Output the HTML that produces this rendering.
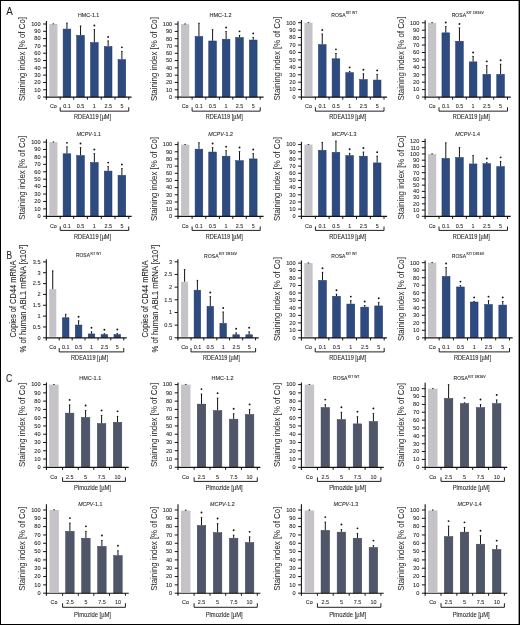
<!DOCTYPE html>
<html><head><meta charset="utf-8"><style>
html,body{margin:0;padding:0;background:#fff;}
svg{display:block;will-change:transform;}
text{font-family:"Liberation Sans", sans-serif;fill:#231f20;stroke:#231f20;stroke-width:0.08px;}
text.t{stroke-width:0.09px;}
text.y{stroke-width:0.02px;}
</style></head><body>
<svg width="520" height="625" viewBox="0 0 520 625">
<rect x="0" y="0" width="520" height="625" fill="#fff"/>
<rect x="49.25" y="24" width="8.2" height="72.05" fill="#c5c3c8"/>
<line x1="53.35" y1="24" x2="53.35" y2="23.56" stroke="#141414" stroke-width="1.0"/>
<line x1="52.55" y1="23.91" x2="54.15" y2="23.91" stroke="#141414" stroke-width="0.7"/>
<rect x="63.1" y="29.07" width="7.7" height="67.98" fill="#2e4b7f" stroke="#1d3670" stroke-width="0.5"/>
<line x1="66.95" y1="28.82" x2="66.95" y2="22.83" stroke="#141414" stroke-width="1.0"/>
<line x1="66.15" y1="23.18" x2="67.75" y2="23.18" stroke="#141414" stroke-width="0.7"/>
<rect x="76.7" y="35.35" width="7.7" height="61.7" fill="#2e4b7f" stroke="#1d3670" stroke-width="0.5"/>
<line x1="80.55" y1="35.1" x2="80.55" y2="25.68" stroke="#141414" stroke-width="1.0"/>
<line x1="79.75" y1="26.03" x2="81.35" y2="26.03" stroke="#141414" stroke-width="0.7"/>
<rect x="90.5" y="42.51" width="7.7" height="54.54" fill="#2e4b7f" stroke="#1d3670" stroke-width="0.5"/>
<line x1="94.35" y1="42.26" x2="94.35" y2="29.19" stroke="#141414" stroke-width="1.0"/>
<line x1="93.55" y1="29.54" x2="95.15" y2="29.54" stroke="#141414" stroke-width="0.7"/>
<circle cx="94.35" cy="25.49" r="0.95" fill="#141414"/>
<rect x="104.3" y="46.53" width="7.7" height="50.52" fill="#2e4b7f" stroke="#1d3670" stroke-width="0.5"/>
<line x1="108.15" y1="46.28" x2="108.15" y2="40.58" stroke="#141414" stroke-width="1.0"/>
<line x1="107.35" y1="40.93" x2="108.95" y2="40.93" stroke="#141414" stroke-width="0.7"/>
<circle cx="108.15" cy="36.88" r="0.95" fill="#141414"/>
<rect x="118.03" y="59.53" width="7.7" height="37.52" fill="#2e4b7f" stroke="#1d3670" stroke-width="0.5"/>
<line x1="121.88" y1="59.28" x2="121.88" y2="51.03" stroke="#141414" stroke-width="1.0"/>
<line x1="121.08" y1="51.38" x2="122.67" y2="51.38" stroke="#141414" stroke-width="0.7"/>
<circle cx="121.88" cy="47.33" r="0.95" fill="#141414"/>
<line x1="46.4" y1="21" x2="46.4" y2="99.65" stroke="#141414" stroke-width="1.1"/>
<line x1="45.85" y1="97.05" x2="131.6" y2="97.05" stroke="#141414" stroke-width="1.15"/>
<line x1="60.2" y1="97.05" x2="60.2" y2="99.65" stroke="#141414" stroke-width="1.0"/>
<line x1="73.7" y1="97.05" x2="73.7" y2="99.65" stroke="#141414" stroke-width="1.0"/>
<line x1="87.4" y1="97.05" x2="87.4" y2="99.65" stroke="#141414" stroke-width="1.0"/>
<line x1="101.3" y1="97.05" x2="101.3" y2="99.65" stroke="#141414" stroke-width="1.0"/>
<line x1="115" y1="97.05" x2="115" y2="99.65" stroke="#141414" stroke-width="1.0"/>
<line x1="128.75" y1="97.05" x2="128.75" y2="99.65" stroke="#141414" stroke-width="1.0"/>
<line x1="43.1" y1="97.05" x2="46.4" y2="97.05" stroke="#141414" stroke-width="1.0"/>
<text x="40.6" y="98.9" font-size="5.6" text-anchor="end">0</text>
<line x1="43.1" y1="89.75" x2="46.4" y2="89.75" stroke="#141414" stroke-width="1.0"/>
<text x="40.6" y="91.59" font-size="5.6" text-anchor="end">10</text>
<line x1="43.1" y1="82.44" x2="46.4" y2="82.44" stroke="#141414" stroke-width="1.0"/>
<text x="40.6" y="84.29" font-size="5.6" text-anchor="end">20</text>
<line x1="43.1" y1="75.13" x2="46.4" y2="75.13" stroke="#141414" stroke-width="1.0"/>
<text x="40.6" y="76.98" font-size="5.6" text-anchor="end">30</text>
<line x1="43.1" y1="67.83" x2="46.4" y2="67.83" stroke="#141414" stroke-width="1.0"/>
<text x="40.6" y="69.68" font-size="5.6" text-anchor="end">40</text>
<line x1="43.1" y1="60.52" x2="46.4" y2="60.52" stroke="#141414" stroke-width="1.0"/>
<text x="40.6" y="62.38" font-size="5.6" text-anchor="end">50</text>
<line x1="43.1" y1="53.22" x2="46.4" y2="53.22" stroke="#141414" stroke-width="1.0"/>
<text x="40.6" y="55.07" font-size="5.6" text-anchor="end">60</text>
<line x1="43.1" y1="45.91" x2="46.4" y2="45.91" stroke="#141414" stroke-width="1.0"/>
<text x="40.6" y="47.77" font-size="5.6" text-anchor="end">70</text>
<line x1="43.1" y1="38.61" x2="46.4" y2="38.61" stroke="#141414" stroke-width="1.0"/>
<text x="40.6" y="40.46" font-size="5.6" text-anchor="end">80</text>
<line x1="43.1" y1="31.31" x2="46.4" y2="31.31" stroke="#141414" stroke-width="1.0"/>
<text x="40.6" y="33.16" font-size="5.6" text-anchor="end">90</text>
<line x1="43.1" y1="24" x2="46.4" y2="24" stroke="#141414" stroke-width="1.0"/>
<text x="40.6" y="25.85" font-size="5.6" text-anchor="end">100</text>
<text x="53.35" y="108.4" font-size="6.2" text-anchor="middle" textLength="6.9" lengthAdjust="spacingAndGlyphs">Co</text>
<text x="66.95" y="108.4" font-size="6.2" text-anchor="middle" textLength="7.51" lengthAdjust="spacingAndGlyphs">0.1</text>
<text x="80.55" y="108.4" font-size="6.2" text-anchor="middle" textLength="7.51" lengthAdjust="spacingAndGlyphs">0.5</text>
<text x="94.35" y="108.4" font-size="6.2" text-anchor="middle" textLength="3" lengthAdjust="spacingAndGlyphs">1</text>
<text x="108.15" y="108.4" font-size="6.2" text-anchor="middle" textLength="7.51" lengthAdjust="spacingAndGlyphs">2.5</text>
<text x="121.88" y="108.4" font-size="6.2" text-anchor="middle" textLength="3" lengthAdjust="spacingAndGlyphs">5</text>
<path d="M60.2 107.25V111.15H128.75V107.25" fill="none" stroke="#141414" stroke-width="0.95"/>
<text x="92.57" y="119.35" font-size="6.3" text-anchor="middle" textLength="37" lengthAdjust="spacingAndGlyphs">RDEA119 [µM]</text>
<text class="t" x="78" y="16.6" font-size="6.1" textLength="21.3" lengthAdjust="spacingAndGlyphs">HMC-1.1</text>
<text class="y" transform="translate(24.9,59.02) rotate(-90)" font-size="8.8" text-anchor="middle" textLength="84" lengthAdjust="spacingAndGlyphs">Staining index [% of Co]</text>
<rect x="181.05" y="24.1" width="8.2" height="71.95" fill="#c5c3c8"/>
<line x1="185.15" y1="24.1" x2="185.15" y2="23.66" stroke="#141414" stroke-width="1.0"/>
<line x1="184.35" y1="24.01" x2="185.95" y2="24.01" stroke="#141414" stroke-width="0.7"/>
<rect x="195.1" y="36.46" width="7.7" height="60.59" fill="#2e4b7f" stroke="#1d3670" stroke-width="0.5"/>
<line x1="198.95" y1="36.21" x2="198.95" y2="22.93" stroke="#141414" stroke-width="1.0"/>
<line x1="198.15" y1="23.28" x2="199.75" y2="23.28" stroke="#141414" stroke-width="0.7"/>
<rect x="208.75" y="40.98" width="7.7" height="56.07" fill="#2e4b7f" stroke="#1d3670" stroke-width="0.5"/>
<line x1="212.6" y1="40.73" x2="212.6" y2="29.28" stroke="#141414" stroke-width="1.0"/>
<line x1="211.8" y1="29.63" x2="213.4" y2="29.63" stroke="#141414" stroke-width="0.7"/>
<rect x="222.25" y="39.23" width="7.7" height="57.82" fill="#2e4b7f" stroke="#1d3670" stroke-width="0.5"/>
<line x1="226.1" y1="38.98" x2="226.1" y2="31.18" stroke="#141414" stroke-width="1.0"/>
<line x1="225.3" y1="31.53" x2="226.9" y2="31.53" stroke="#141414" stroke-width="0.7"/>
<circle cx="226.1" cy="27.48" r="0.95" fill="#141414"/>
<rect x="235.68" y="37.55" width="7.7" height="59.5" fill="#2e4b7f" stroke="#1d3670" stroke-width="0.5"/>
<line x1="239.53" y1="37.3" x2="239.53" y2="35.04" stroke="#141414" stroke-width="1.0"/>
<line x1="238.72" y1="35.39" x2="240.33" y2="35.39" stroke="#141414" stroke-width="0.7"/>
<circle cx="239.53" cy="31.34" r="0.95" fill="#141414"/>
<rect x="249.38" y="40.03" width="7.7" height="57.02" fill="#2e4b7f" stroke="#1d3670" stroke-width="0.5"/>
<line x1="253.22" y1="39.78" x2="253.22" y2="37.09" stroke="#141414" stroke-width="1.0"/>
<line x1="252.42" y1="37.44" x2="254.03" y2="37.44" stroke="#141414" stroke-width="0.7"/>
<circle cx="253.22" cy="33.39" r="0.95" fill="#141414"/>
<line x1="178" y1="21.2" x2="178" y2="99.65" stroke="#141414" stroke-width="1.1"/>
<line x1="177.45" y1="97.05" x2="263.6" y2="97.05" stroke="#141414" stroke-width="1.15"/>
<line x1="192.1" y1="97.05" x2="192.1" y2="99.65" stroke="#141414" stroke-width="1.0"/>
<line x1="205.8" y1="97.05" x2="205.8" y2="99.65" stroke="#141414" stroke-width="1.0"/>
<line x1="219.4" y1="97.05" x2="219.4" y2="99.65" stroke="#141414" stroke-width="1.0"/>
<line x1="232.8" y1="97.05" x2="232.8" y2="99.65" stroke="#141414" stroke-width="1.0"/>
<line x1="246.25" y1="97.05" x2="246.25" y2="99.65" stroke="#141414" stroke-width="1.0"/>
<line x1="260.2" y1="97.05" x2="260.2" y2="99.65" stroke="#141414" stroke-width="1.0"/>
<line x1="174.7" y1="97.05" x2="178" y2="97.05" stroke="#141414" stroke-width="1.0"/>
<text x="172.2" y="98.9" font-size="5.6" text-anchor="end">0</text>
<line x1="174.7" y1="89.75" x2="178" y2="89.75" stroke="#141414" stroke-width="1.0"/>
<text x="172.2" y="91.6" font-size="5.6" text-anchor="end">10</text>
<line x1="174.7" y1="82.46" x2="178" y2="82.46" stroke="#141414" stroke-width="1.0"/>
<text x="172.2" y="84.31" font-size="5.6" text-anchor="end">20</text>
<line x1="174.7" y1="75.16" x2="178" y2="75.16" stroke="#141414" stroke-width="1.0"/>
<text x="172.2" y="77.01" font-size="5.6" text-anchor="end">30</text>
<line x1="174.7" y1="67.87" x2="178" y2="67.87" stroke="#141414" stroke-width="1.0"/>
<text x="172.2" y="69.72" font-size="5.6" text-anchor="end">40</text>
<line x1="174.7" y1="60.58" x2="178" y2="60.58" stroke="#141414" stroke-width="1.0"/>
<text x="172.2" y="62.43" font-size="5.6" text-anchor="end">50</text>
<line x1="174.7" y1="53.28" x2="178" y2="53.28" stroke="#141414" stroke-width="1.0"/>
<text x="172.2" y="55.13" font-size="5.6" text-anchor="end">60</text>
<line x1="174.7" y1="45.98" x2="178" y2="45.98" stroke="#141414" stroke-width="1.0"/>
<text x="172.2" y="47.84" font-size="5.6" text-anchor="end">70</text>
<line x1="174.7" y1="38.69" x2="178" y2="38.69" stroke="#141414" stroke-width="1.0"/>
<text x="172.2" y="40.54" font-size="5.6" text-anchor="end">80</text>
<line x1="174.7" y1="31.4" x2="178" y2="31.4" stroke="#141414" stroke-width="1.0"/>
<text x="172.2" y="33.25" font-size="5.6" text-anchor="end">90</text>
<line x1="174.7" y1="24.1" x2="178" y2="24.1" stroke="#141414" stroke-width="1.0"/>
<text x="172.2" y="25.95" font-size="5.6" text-anchor="end">100</text>
<text x="185.15" y="108.4" font-size="6.2" text-anchor="middle" textLength="6.9" lengthAdjust="spacingAndGlyphs">Co</text>
<text x="198.95" y="108.4" font-size="6.2" text-anchor="middle" textLength="7.51" lengthAdjust="spacingAndGlyphs">0.1</text>
<text x="212.6" y="108.4" font-size="6.2" text-anchor="middle" textLength="7.51" lengthAdjust="spacingAndGlyphs">0.5</text>
<text x="226.1" y="108.4" font-size="6.2" text-anchor="middle" textLength="3" lengthAdjust="spacingAndGlyphs">1</text>
<text x="239.53" y="108.4" font-size="6.2" text-anchor="middle" textLength="7.51" lengthAdjust="spacingAndGlyphs">2.5</text>
<text x="253.22" y="108.4" font-size="6.2" text-anchor="middle" textLength="3" lengthAdjust="spacingAndGlyphs">5</text>
<path d="M192.1 107.25V111.15H260.2V107.25" fill="none" stroke="#141414" stroke-width="0.95"/>
<text x="224.25" y="119.35" font-size="6.3" text-anchor="middle" textLength="37" lengthAdjust="spacingAndGlyphs">RDEA119 [µM]</text>
<text class="t" x="209.5" y="16.6" font-size="6.1" textLength="22.1" lengthAdjust="spacingAndGlyphs">HMC-1.2</text>
<text class="y" transform="translate(156.5,59.12) rotate(-90)" font-size="8.8" text-anchor="middle" textLength="84" lengthAdjust="spacingAndGlyphs">Staining index [% of Co]</text>
<rect x="304.35" y="22.7" width="8.2" height="73.35" fill="#c5c3c8"/>
<line x1="308.45" y1="22.7" x2="308.45" y2="22.25" stroke="#141414" stroke-width="1.0"/>
<line x1="307.65" y1="22.6" x2="309.25" y2="22.6" stroke="#141414" stroke-width="0.7"/>
<rect x="318.4" y="44.59" width="7.7" height="52.46" fill="#2e4b7f" stroke="#1d3670" stroke-width="0.5"/>
<line x1="322.25" y1="44.34" x2="322.25" y2="33.7" stroke="#141414" stroke-width="1.0"/>
<line x1="321.45" y1="34.05" x2="323.05" y2="34.05" stroke="#141414" stroke-width="0.7"/>
<circle cx="322.25" cy="30" r="0.95" fill="#141414"/>
<rect x="332.1" y="58.79" width="7.7" height="38.26" fill="#2e4b7f" stroke="#1d3670" stroke-width="0.5"/>
<line x1="335.95" y1="58.54" x2="335.95" y2="53.03" stroke="#141414" stroke-width="1.0"/>
<line x1="335.15" y1="53.38" x2="336.75" y2="53.38" stroke="#141414" stroke-width="0.7"/>
<circle cx="335.95" cy="49.33" r="0.95" fill="#141414"/>
<rect x="345.8" y="72.62" width="7.7" height="24.43" fill="#2e4b7f" stroke="#1d3670" stroke-width="0.5"/>
<line x1="349.65" y1="72.37" x2="349.65" y2="71.1" stroke="#141414" stroke-width="1.0"/>
<line x1="348.85" y1="71.45" x2="350.45" y2="71.45" stroke="#141414" stroke-width="0.7"/>
<circle cx="349.65" cy="67.4" r="0.95" fill="#141414"/>
<rect x="359.55" y="79.53" width="7.7" height="17.52" fill="#2e4b7f" stroke="#1d3670" stroke-width="0.5"/>
<line x1="363.4" y1="79.28" x2="363.4" y2="73.41" stroke="#141414" stroke-width="1.0"/>
<line x1="362.6" y1="73.76" x2="364.2" y2="73.76" stroke="#141414" stroke-width="0.7"/>
<circle cx="363.4" cy="69.71" r="0.95" fill="#141414"/>
<rect x="373.3" y="80.05" width="7.7" height="17" fill="#2e4b7f" stroke="#1d3670" stroke-width="0.5"/>
<line x1="377.15" y1="79.8" x2="377.15" y2="74.08" stroke="#141414" stroke-width="1.0"/>
<line x1="376.35" y1="74.43" x2="377.95" y2="74.43" stroke="#141414" stroke-width="0.7"/>
<circle cx="377.15" cy="70.38" r="0.95" fill="#141414"/>
<line x1="301.4" y1="20" x2="301.4" y2="99.65" stroke="#141414" stroke-width="1.1"/>
<line x1="300.85" y1="97.05" x2="387.1" y2="97.05" stroke="#141414" stroke-width="1.15"/>
<line x1="315.4" y1="97.05" x2="315.4" y2="99.65" stroke="#141414" stroke-width="1.0"/>
<line x1="329.1" y1="97.05" x2="329.1" y2="99.65" stroke="#141414" stroke-width="1.0"/>
<line x1="342.8" y1="97.05" x2="342.8" y2="99.65" stroke="#141414" stroke-width="1.0"/>
<line x1="356.5" y1="97.05" x2="356.5" y2="99.65" stroke="#141414" stroke-width="1.0"/>
<line x1="370.3" y1="97.05" x2="370.3" y2="99.65" stroke="#141414" stroke-width="1.0"/>
<line x1="384" y1="97.05" x2="384" y2="99.65" stroke="#141414" stroke-width="1.0"/>
<line x1="298.1" y1="97.05" x2="301.4" y2="97.05" stroke="#141414" stroke-width="1.0"/>
<text x="295.6" y="98.9" font-size="5.6" text-anchor="end">0</text>
<line x1="298.1" y1="89.61" x2="301.4" y2="89.61" stroke="#141414" stroke-width="1.0"/>
<text x="295.6" y="91.46" font-size="5.6" text-anchor="end">10</text>
<line x1="298.1" y1="82.18" x2="301.4" y2="82.18" stroke="#141414" stroke-width="1.0"/>
<text x="295.6" y="84.03" font-size="5.6" text-anchor="end">20</text>
<line x1="298.1" y1="74.75" x2="301.4" y2="74.75" stroke="#141414" stroke-width="1.0"/>
<text x="295.6" y="76.59" font-size="5.6" text-anchor="end">30</text>
<line x1="298.1" y1="67.31" x2="301.4" y2="67.31" stroke="#141414" stroke-width="1.0"/>
<text x="295.6" y="69.16" font-size="5.6" text-anchor="end">40</text>
<line x1="298.1" y1="59.88" x2="301.4" y2="59.88" stroke="#141414" stroke-width="1.0"/>
<text x="295.6" y="61.73" font-size="5.6" text-anchor="end">50</text>
<line x1="298.1" y1="52.44" x2="301.4" y2="52.44" stroke="#141414" stroke-width="1.0"/>
<text x="295.6" y="54.29" font-size="5.6" text-anchor="end">60</text>
<line x1="298.1" y1="45.01" x2="301.4" y2="45.01" stroke="#141414" stroke-width="1.0"/>
<text x="295.6" y="46.86" font-size="5.6" text-anchor="end">70</text>
<line x1="298.1" y1="37.57" x2="301.4" y2="37.57" stroke="#141414" stroke-width="1.0"/>
<text x="295.6" y="39.42" font-size="5.6" text-anchor="end">80</text>
<line x1="298.1" y1="30.14" x2="301.4" y2="30.14" stroke="#141414" stroke-width="1.0"/>
<text x="295.6" y="31.99" font-size="5.6" text-anchor="end">90</text>
<line x1="298.1" y1="22.7" x2="301.4" y2="22.7" stroke="#141414" stroke-width="1.0"/>
<text x="295.6" y="24.55" font-size="5.6" text-anchor="end">100</text>
<text x="308.45" y="108.4" font-size="6.2" text-anchor="middle" textLength="6.9" lengthAdjust="spacingAndGlyphs">Co</text>
<text x="322.25" y="108.4" font-size="6.2" text-anchor="middle" textLength="7.51" lengthAdjust="spacingAndGlyphs">0.1</text>
<text x="335.95" y="108.4" font-size="6.2" text-anchor="middle" textLength="7.51" lengthAdjust="spacingAndGlyphs">0.5</text>
<text x="349.65" y="108.4" font-size="6.2" text-anchor="middle" textLength="3" lengthAdjust="spacingAndGlyphs">1</text>
<text x="363.4" y="108.4" font-size="6.2" text-anchor="middle" textLength="7.51" lengthAdjust="spacingAndGlyphs">2.5</text>
<text x="377.15" y="108.4" font-size="6.2" text-anchor="middle" textLength="3" lengthAdjust="spacingAndGlyphs">5</text>
<path d="M315.4 107.25V111.15H384V107.25" fill="none" stroke="#141414" stroke-width="0.95"/>
<text x="347.8" y="119.35" font-size="6.3" text-anchor="middle" textLength="37" lengthAdjust="spacingAndGlyphs">RDEA119 [µM]</text>
<text class="t" x="331.3" y="16.7" font-size="6.1" textLength="14.2" lengthAdjust="spacingAndGlyphs">ROSA</text>
<text class="t" x="345.9" y="14.2" font-size="3.3" textLength="11.5" lengthAdjust="spacingAndGlyphs">KIT WT</text>
<text class="y" transform="translate(279.9,58.52) rotate(-90)" font-size="8.8" text-anchor="middle" textLength="84" lengthAdjust="spacingAndGlyphs">Staining index [% of Co]</text>
<rect x="428" y="22.8" width="8.2" height="73.25" fill="#c5c3c8"/>
<line x1="432.1" y1="22.8" x2="432.1" y2="22.35" stroke="#141414" stroke-width="1.0"/>
<line x1="431.3" y1="22.7" x2="432.9" y2="22.7" stroke="#141414" stroke-width="0.7"/>
<rect x="441.95" y="32.85" width="7.7" height="64.2" fill="#2e4b7f" stroke="#1d3670" stroke-width="0.5"/>
<line x1="445.8" y1="32.6" x2="445.8" y2="26.22" stroke="#141414" stroke-width="1.0"/>
<line x1="445" y1="26.57" x2="446.6" y2="26.57" stroke="#141414" stroke-width="0.7"/>
<circle cx="445.8" cy="22.52" r="0.95" fill="#141414"/>
<rect x="455.6" y="41.24" width="7.7" height="55.81" fill="#2e4b7f" stroke="#1d3670" stroke-width="0.5"/>
<line x1="459.45" y1="40.99" x2="459.45" y2="27.63" stroke="#141414" stroke-width="1.0"/>
<line x1="458.65" y1="27.98" x2="460.25" y2="27.98" stroke="#141414" stroke-width="0.7"/>
<circle cx="459.45" cy="23.93" r="0.95" fill="#141414"/>
<rect x="469.25" y="61.88" width="7.7" height="35.17" fill="#2e4b7f" stroke="#1d3670" stroke-width="0.5"/>
<line x1="473.1" y1="61.63" x2="473.1" y2="56.14" stroke="#141414" stroke-width="1.0"/>
<line x1="472.3" y1="56.49" x2="473.9" y2="56.49" stroke="#141414" stroke-width="0.7"/>
<circle cx="473.1" cy="52.44" r="0.95" fill="#141414"/>
<rect x="482.95" y="74.36" width="7.7" height="22.69" fill="#2e4b7f" stroke="#1d3670" stroke-width="0.5"/>
<line x1="486.8" y1="74.11" x2="486.8" y2="65.12" stroke="#141414" stroke-width="1.0"/>
<line x1="486" y1="65.47" x2="487.6" y2="65.47" stroke="#141414" stroke-width="0.7"/>
<circle cx="486.8" cy="61.42" r="0.95" fill="#141414"/>
<rect x="496.75" y="74.36" width="7.7" height="22.69" fill="#2e4b7f" stroke="#1d3670" stroke-width="0.5"/>
<line x1="500.6" y1="74.11" x2="500.6" y2="63.93" stroke="#141414" stroke-width="1.0"/>
<line x1="499.8" y1="64.28" x2="501.4" y2="64.28" stroke="#141414" stroke-width="0.7"/>
<circle cx="500.6" cy="60.23" r="0.95" fill="#141414"/>
<line x1="425.15" y1="20.2" x2="425.15" y2="99.65" stroke="#141414" stroke-width="1.1"/>
<line x1="424.6" y1="97.05" x2="510.7" y2="97.05" stroke="#141414" stroke-width="1.15"/>
<line x1="439" y1="97.05" x2="439" y2="99.65" stroke="#141414" stroke-width="1.0"/>
<line x1="452.6" y1="97.05" x2="452.6" y2="99.65" stroke="#141414" stroke-width="1.0"/>
<line x1="466.3" y1="97.05" x2="466.3" y2="99.65" stroke="#141414" stroke-width="1.0"/>
<line x1="479.9" y1="97.05" x2="479.9" y2="99.65" stroke="#141414" stroke-width="1.0"/>
<line x1="493.7" y1="97.05" x2="493.7" y2="99.65" stroke="#141414" stroke-width="1.0"/>
<line x1="507.5" y1="97.05" x2="507.5" y2="99.65" stroke="#141414" stroke-width="1.0"/>
<line x1="421.85" y1="97.05" x2="425.15" y2="97.05" stroke="#141414" stroke-width="1.0"/>
<text x="419.35" y="98.9" font-size="5.6" text-anchor="end">0</text>
<line x1="421.85" y1="89.62" x2="425.15" y2="89.62" stroke="#141414" stroke-width="1.0"/>
<text x="419.35" y="91.47" font-size="5.6" text-anchor="end">10</text>
<line x1="421.85" y1="82.2" x2="425.15" y2="82.2" stroke="#141414" stroke-width="1.0"/>
<text x="419.35" y="84.05" font-size="5.6" text-anchor="end">20</text>
<line x1="421.85" y1="74.77" x2="425.15" y2="74.77" stroke="#141414" stroke-width="1.0"/>
<text x="419.35" y="76.62" font-size="5.6" text-anchor="end">30</text>
<line x1="421.85" y1="67.35" x2="425.15" y2="67.35" stroke="#141414" stroke-width="1.0"/>
<text x="419.35" y="69.2" font-size="5.6" text-anchor="end">40</text>
<line x1="421.85" y1="59.92" x2="425.15" y2="59.92" stroke="#141414" stroke-width="1.0"/>
<text x="419.35" y="61.77" font-size="5.6" text-anchor="end">50</text>
<line x1="421.85" y1="52.5" x2="425.15" y2="52.5" stroke="#141414" stroke-width="1.0"/>
<text x="419.35" y="54.35" font-size="5.6" text-anchor="end">60</text>
<line x1="421.85" y1="45.07" x2="425.15" y2="45.07" stroke="#141414" stroke-width="1.0"/>
<text x="419.35" y="46.92" font-size="5.6" text-anchor="end">70</text>
<line x1="421.85" y1="37.65" x2="425.15" y2="37.65" stroke="#141414" stroke-width="1.0"/>
<text x="419.35" y="39.5" font-size="5.6" text-anchor="end">80</text>
<line x1="421.85" y1="30.22" x2="425.15" y2="30.22" stroke="#141414" stroke-width="1.0"/>
<text x="419.35" y="32.07" font-size="5.6" text-anchor="end">90</text>
<line x1="421.85" y1="22.8" x2="425.15" y2="22.8" stroke="#141414" stroke-width="1.0"/>
<text x="419.35" y="24.65" font-size="5.6" text-anchor="end">100</text>
<text x="432.1" y="108.4" font-size="6.2" text-anchor="middle" textLength="6.9" lengthAdjust="spacingAndGlyphs">Co</text>
<text x="445.8" y="108.4" font-size="6.2" text-anchor="middle" textLength="7.51" lengthAdjust="spacingAndGlyphs">0.1</text>
<text x="459.45" y="108.4" font-size="6.2" text-anchor="middle" textLength="7.51" lengthAdjust="spacingAndGlyphs">0.5</text>
<text x="473.1" y="108.4" font-size="6.2" text-anchor="middle" textLength="3" lengthAdjust="spacingAndGlyphs">1</text>
<text x="486.8" y="108.4" font-size="6.2" text-anchor="middle" textLength="7.51" lengthAdjust="spacingAndGlyphs">2.5</text>
<text x="500.6" y="108.4" font-size="6.2" text-anchor="middle" textLength="3" lengthAdjust="spacingAndGlyphs">5</text>
<path d="M439 107.25V111.15H507.5V107.25" fill="none" stroke="#141414" stroke-width="0.95"/>
<text x="471.35" y="119.35" font-size="6.3" text-anchor="middle" textLength="37" lengthAdjust="spacingAndGlyphs">RDEA119 [µM]</text>
<text class="t" x="451.7" y="16.7" font-size="6.1" textLength="14.4" lengthAdjust="spacingAndGlyphs">ROSA</text>
<text class="t" x="466.5" y="14.2" font-size="3.3" textLength="17.3" lengthAdjust="spacingAndGlyphs">KIT D816V</text>
<text class="y" transform="translate(403.65,58.62) rotate(-90)" font-size="8.8" text-anchor="middle" textLength="84" lengthAdjust="spacingAndGlyphs">Staining index [% of Co]</text>
<rect x="49.25" y="142.1" width="8.2" height="73.2" fill="#c5c3c8"/>
<line x1="53.35" y1="142.1" x2="53.35" y2="141.65" stroke="#141414" stroke-width="1.0"/>
<line x1="52.55" y1="142" x2="54.15" y2="142" stroke="#141414" stroke-width="0.7"/>
<rect x="63.1" y="153.78" width="7.7" height="62.52" fill="#2e4b7f" stroke="#1d3670" stroke-width="0.5"/>
<line x1="66.95" y1="153.53" x2="66.95" y2="146.55" stroke="#141414" stroke-width="1.0"/>
<line x1="66.15" y1="146.9" x2="67.75" y2="146.9" stroke="#141414" stroke-width="0.7"/>
<circle cx="66.95" cy="142.85" r="0.95" fill="#141414"/>
<rect x="76.7" y="155.56" width="7.7" height="60.74" fill="#2e4b7f" stroke="#1d3670" stroke-width="0.5"/>
<line x1="80.55" y1="155.31" x2="80.55" y2="147.22" stroke="#141414" stroke-width="1.0"/>
<line x1="79.75" y1="147.57" x2="81.35" y2="147.57" stroke="#141414" stroke-width="0.7"/>
<circle cx="80.55" cy="143.52" r="0.95" fill="#141414"/>
<rect x="90.5" y="162.46" width="7.7" height="53.84" fill="#2e4b7f" stroke="#1d3670" stroke-width="0.5"/>
<line x1="94.35" y1="162.21" x2="94.35" y2="153.23" stroke="#141414" stroke-width="1.0"/>
<line x1="93.55" y1="153.58" x2="95.15" y2="153.58" stroke="#141414" stroke-width="0.7"/>
<circle cx="94.35" cy="149.53" r="0.95" fill="#141414"/>
<rect x="104.3" y="171.07" width="7.7" height="45.23" fill="#2e4b7f" stroke="#1d3670" stroke-width="0.5"/>
<line x1="108.15" y1="170.82" x2="108.15" y2="166.29" stroke="#141414" stroke-width="1.0"/>
<line x1="107.35" y1="166.64" x2="108.95" y2="166.64" stroke="#141414" stroke-width="0.7"/>
<circle cx="108.15" cy="162.59" r="0.95" fill="#141414"/>
<rect x="118.03" y="175.29" width="7.7" height="41.01" fill="#2e4b7f" stroke="#1d3670" stroke-width="0.5"/>
<line x1="121.88" y1="175.04" x2="121.88" y2="168.22" stroke="#141414" stroke-width="1.0"/>
<line x1="121.08" y1="168.57" x2="122.67" y2="168.57" stroke="#141414" stroke-width="0.7"/>
<circle cx="121.88" cy="164.52" r="0.95" fill="#141414"/>
<line x1="46.4" y1="139.2" x2="46.4" y2="218.9" stroke="#141414" stroke-width="1.1"/>
<line x1="45.85" y1="216.3" x2="131.7" y2="216.3" stroke="#141414" stroke-width="1.15"/>
<line x1="60.2" y1="216.3" x2="60.2" y2="218.9" stroke="#141414" stroke-width="1.0"/>
<line x1="73.7" y1="216.3" x2="73.7" y2="218.9" stroke="#141414" stroke-width="1.0"/>
<line x1="87.4" y1="216.3" x2="87.4" y2="218.9" stroke="#141414" stroke-width="1.0"/>
<line x1="101.3" y1="216.3" x2="101.3" y2="218.9" stroke="#141414" stroke-width="1.0"/>
<line x1="115" y1="216.3" x2="115" y2="218.9" stroke="#141414" stroke-width="1.0"/>
<line x1="128.75" y1="216.3" x2="128.75" y2="218.9" stroke="#141414" stroke-width="1.0"/>
<line x1="43.1" y1="216.3" x2="46.4" y2="216.3" stroke="#141414" stroke-width="1.0"/>
<text x="40.6" y="218.15" font-size="5.6" text-anchor="end">0</text>
<line x1="43.1" y1="208.88" x2="46.4" y2="208.88" stroke="#141414" stroke-width="1.0"/>
<text x="40.6" y="210.73" font-size="5.6" text-anchor="end">10</text>
<line x1="43.1" y1="201.46" x2="46.4" y2="201.46" stroke="#141414" stroke-width="1.0"/>
<text x="40.6" y="203.31" font-size="5.6" text-anchor="end">20</text>
<line x1="43.1" y1="194.04" x2="46.4" y2="194.04" stroke="#141414" stroke-width="1.0"/>
<text x="40.6" y="195.89" font-size="5.6" text-anchor="end">30</text>
<line x1="43.1" y1="186.62" x2="46.4" y2="186.62" stroke="#141414" stroke-width="1.0"/>
<text x="40.6" y="188.47" font-size="5.6" text-anchor="end">40</text>
<line x1="43.1" y1="179.2" x2="46.4" y2="179.2" stroke="#141414" stroke-width="1.0"/>
<text x="40.6" y="181.05" font-size="5.6" text-anchor="end">50</text>
<line x1="43.1" y1="171.78" x2="46.4" y2="171.78" stroke="#141414" stroke-width="1.0"/>
<text x="40.6" y="173.63" font-size="5.6" text-anchor="end">60</text>
<line x1="43.1" y1="164.36" x2="46.4" y2="164.36" stroke="#141414" stroke-width="1.0"/>
<text x="40.6" y="166.21" font-size="5.6" text-anchor="end">70</text>
<line x1="43.1" y1="156.94" x2="46.4" y2="156.94" stroke="#141414" stroke-width="1.0"/>
<text x="40.6" y="158.79" font-size="5.6" text-anchor="end">80</text>
<line x1="43.1" y1="149.52" x2="46.4" y2="149.52" stroke="#141414" stroke-width="1.0"/>
<text x="40.6" y="151.37" font-size="5.6" text-anchor="end">90</text>
<line x1="43.1" y1="142.1" x2="46.4" y2="142.1" stroke="#141414" stroke-width="1.0"/>
<text x="40.6" y="143.95" font-size="5.6" text-anchor="end">100</text>
<text x="53.35" y="227.65" font-size="6.2" text-anchor="middle" textLength="6.9" lengthAdjust="spacingAndGlyphs">Co</text>
<text x="66.95" y="227.65" font-size="6.2" text-anchor="middle" textLength="7.51" lengthAdjust="spacingAndGlyphs">0.1</text>
<text x="80.55" y="227.65" font-size="6.2" text-anchor="middle" textLength="7.51" lengthAdjust="spacingAndGlyphs">0.5</text>
<text x="94.35" y="227.65" font-size="6.2" text-anchor="middle" textLength="3" lengthAdjust="spacingAndGlyphs">1</text>
<text x="108.15" y="227.65" font-size="6.2" text-anchor="middle" textLength="7.51" lengthAdjust="spacingAndGlyphs">2.5</text>
<text x="121.88" y="227.65" font-size="6.2" text-anchor="middle" textLength="3" lengthAdjust="spacingAndGlyphs">5</text>
<path d="M60.2 226.5V230.4H128.75V226.5" fill="none" stroke="#141414" stroke-width="0.95"/>
<text x="92.57" y="238.9" font-size="6.3" text-anchor="middle" textLength="37" lengthAdjust="spacingAndGlyphs">RDEA119 [µM]</text>
<text class="t" x="76.4" y="135.7" font-size="6.1" textLength="24.6" lengthAdjust="spacingAndGlyphs"><tspan font-style="italic">MCPV</tspan>-1.1</text>
<text class="y" transform="translate(24.9,177.75) rotate(-90)" font-size="8.8" text-anchor="middle" textLength="84" lengthAdjust="spacingAndGlyphs">Staining index [% of Co]</text>
<rect x="181.05" y="144.6" width="8.2" height="70.7" fill="#c5c3c8"/>
<line x1="185.15" y1="144.6" x2="185.15" y2="144.17" stroke="#141414" stroke-width="1.0"/>
<line x1="184.35" y1="144.52" x2="185.95" y2="144.52" stroke="#141414" stroke-width="0.7"/>
<rect x="195.1" y="149.15" width="7.7" height="67.15" fill="#2e4b7f" stroke="#1d3670" stroke-width="0.5"/>
<line x1="198.95" y1="148.9" x2="198.95" y2="142.45" stroke="#141414" stroke-width="1.0"/>
<line x1="198.15" y1="142.8" x2="199.75" y2="142.8" stroke="#141414" stroke-width="0.7"/>
<rect x="208.75" y="152.02" width="7.7" height="64.28" fill="#2e4b7f" stroke="#1d3670" stroke-width="0.5"/>
<line x1="212.6" y1="151.77" x2="212.6" y2="147.18" stroke="#141414" stroke-width="1.0"/>
<line x1="211.8" y1="147.53" x2="213.4" y2="147.53" stroke="#141414" stroke-width="0.7"/>
<circle cx="212.6" cy="143.48" r="0.95" fill="#141414"/>
<rect x="222.25" y="156.18" width="7.7" height="60.12" fill="#2e4b7f" stroke="#1d3670" stroke-width="0.5"/>
<line x1="226.1" y1="155.93" x2="226.1" y2="150.34" stroke="#141414" stroke-width="1.0"/>
<line x1="225.3" y1="150.69" x2="226.9" y2="150.69" stroke="#141414" stroke-width="0.7"/>
<circle cx="226.1" cy="146.64" r="0.95" fill="#141414"/>
<rect x="235.68" y="160.7" width="7.7" height="55.6" fill="#2e4b7f" stroke="#1d3670" stroke-width="0.5"/>
<line x1="239.53" y1="160.45" x2="239.53" y2="151.27" stroke="#141414" stroke-width="1.0"/>
<line x1="238.72" y1="151.62" x2="240.33" y2="151.62" stroke="#141414" stroke-width="0.7"/>
<circle cx="239.53" cy="147.57" r="0.95" fill="#141414"/>
<rect x="249.38" y="158.9" width="7.7" height="57.4" fill="#2e4b7f" stroke="#1d3670" stroke-width="0.5"/>
<line x1="253.22" y1="158.65" x2="253.22" y2="153.2" stroke="#141414" stroke-width="1.0"/>
<line x1="252.42" y1="153.55" x2="254.03" y2="153.55" stroke="#141414" stroke-width="0.7"/>
<circle cx="253.22" cy="149.5" r="0.95" fill="#141414"/>
<line x1="178" y1="141.8" x2="178" y2="218.9" stroke="#141414" stroke-width="1.1"/>
<line x1="177.45" y1="216.3" x2="263.6" y2="216.3" stroke="#141414" stroke-width="1.15"/>
<line x1="192.1" y1="216.3" x2="192.1" y2="218.9" stroke="#141414" stroke-width="1.0"/>
<line x1="205.8" y1="216.3" x2="205.8" y2="218.9" stroke="#141414" stroke-width="1.0"/>
<line x1="219.4" y1="216.3" x2="219.4" y2="218.9" stroke="#141414" stroke-width="1.0"/>
<line x1="232.8" y1="216.3" x2="232.8" y2="218.9" stroke="#141414" stroke-width="1.0"/>
<line x1="246.25" y1="216.3" x2="246.25" y2="218.9" stroke="#141414" stroke-width="1.0"/>
<line x1="260.2" y1="216.3" x2="260.2" y2="218.9" stroke="#141414" stroke-width="1.0"/>
<line x1="174.7" y1="216.3" x2="178" y2="216.3" stroke="#141414" stroke-width="1.0"/>
<text x="172.2" y="218.15" font-size="5.6" text-anchor="end">0</text>
<line x1="174.7" y1="209.13" x2="178" y2="209.13" stroke="#141414" stroke-width="1.0"/>
<text x="172.2" y="210.98" font-size="5.6" text-anchor="end">10</text>
<line x1="174.7" y1="201.96" x2="178" y2="201.96" stroke="#141414" stroke-width="1.0"/>
<text x="172.2" y="203.81" font-size="5.6" text-anchor="end">20</text>
<line x1="174.7" y1="194.79" x2="178" y2="194.79" stroke="#141414" stroke-width="1.0"/>
<text x="172.2" y="196.64" font-size="5.6" text-anchor="end">30</text>
<line x1="174.7" y1="187.62" x2="178" y2="187.62" stroke="#141414" stroke-width="1.0"/>
<text x="172.2" y="189.47" font-size="5.6" text-anchor="end">40</text>
<line x1="174.7" y1="180.45" x2="178" y2="180.45" stroke="#141414" stroke-width="1.0"/>
<text x="172.2" y="182.3" font-size="5.6" text-anchor="end">50</text>
<line x1="174.7" y1="173.28" x2="178" y2="173.28" stroke="#141414" stroke-width="1.0"/>
<text x="172.2" y="175.13" font-size="5.6" text-anchor="end">60</text>
<line x1="174.7" y1="166.11" x2="178" y2="166.11" stroke="#141414" stroke-width="1.0"/>
<text x="172.2" y="167.96" font-size="5.6" text-anchor="end">70</text>
<line x1="174.7" y1="158.94" x2="178" y2="158.94" stroke="#141414" stroke-width="1.0"/>
<text x="172.2" y="160.79" font-size="5.6" text-anchor="end">80</text>
<line x1="174.7" y1="151.77" x2="178" y2="151.77" stroke="#141414" stroke-width="1.0"/>
<text x="172.2" y="153.62" font-size="5.6" text-anchor="end">90</text>
<line x1="174.7" y1="144.6" x2="178" y2="144.6" stroke="#141414" stroke-width="1.0"/>
<text x="172.2" y="146.45" font-size="5.6" text-anchor="end">100</text>
<text x="185.15" y="227.65" font-size="6.2" text-anchor="middle" textLength="6.9" lengthAdjust="spacingAndGlyphs">Co</text>
<text x="198.95" y="227.65" font-size="6.2" text-anchor="middle" textLength="7.51" lengthAdjust="spacingAndGlyphs">0.1</text>
<text x="212.6" y="227.65" font-size="6.2" text-anchor="middle" textLength="7.51" lengthAdjust="spacingAndGlyphs">0.5</text>
<text x="226.1" y="227.65" font-size="6.2" text-anchor="middle" textLength="3" lengthAdjust="spacingAndGlyphs">1</text>
<text x="239.53" y="227.65" font-size="6.2" text-anchor="middle" textLength="7.51" lengthAdjust="spacingAndGlyphs">2.5</text>
<text x="253.22" y="227.65" font-size="6.2" text-anchor="middle" textLength="3" lengthAdjust="spacingAndGlyphs">5</text>
<path d="M192.1 226.5V230.4H260.2V226.5" fill="none" stroke="#141414" stroke-width="0.95"/>
<text x="224.25" y="238.9" font-size="6.3" text-anchor="middle" textLength="37" lengthAdjust="spacingAndGlyphs">RDEA119 [µM]</text>
<text class="t" x="208.2" y="135.9" font-size="6.1" textLength="24.8" lengthAdjust="spacingAndGlyphs"><tspan font-style="italic">MCPV</tspan>-1.2</text>
<text class="y" transform="translate(156.5,179.05) rotate(-90)" font-size="8.8" text-anchor="middle" textLength="84" lengthAdjust="spacingAndGlyphs">Staining index [% of Co]</text>
<rect x="304.35" y="144.6" width="8.2" height="70.7" fill="#c5c3c8"/>
<line x1="308.45" y1="144.6" x2="308.45" y2="144.17" stroke="#141414" stroke-width="1.0"/>
<line x1="307.65" y1="144.52" x2="309.25" y2="144.52" stroke="#141414" stroke-width="0.7"/>
<rect x="318.4" y="150.3" width="7.7" height="66" fill="#2e4b7f" stroke="#1d3670" stroke-width="0.5"/>
<line x1="322.25" y1="150.05" x2="322.25" y2="142.02" stroke="#141414" stroke-width="1.0"/>
<line x1="321.45" y1="142.37" x2="323.05" y2="142.37" stroke="#141414" stroke-width="0.7"/>
<rect x="332.1" y="152.31" width="7.7" height="63.99" fill="#2e4b7f" stroke="#1d3670" stroke-width="0.5"/>
<line x1="335.95" y1="152.06" x2="335.95" y2="140.8" stroke="#141414" stroke-width="1.0"/>
<line x1="335.15" y1="141.15" x2="336.75" y2="141.15" stroke="#141414" stroke-width="0.7"/>
<rect x="345.8" y="155.53" width="7.7" height="60.77" fill="#2e4b7f" stroke="#1d3670" stroke-width="0.5"/>
<line x1="349.65" y1="155.28" x2="349.65" y2="152.99" stroke="#141414" stroke-width="1.0"/>
<line x1="348.85" y1="153.34" x2="350.45" y2="153.34" stroke="#141414" stroke-width="0.7"/>
<circle cx="349.65" cy="149.29" r="0.95" fill="#141414"/>
<rect x="359.55" y="156.18" width="7.7" height="60.12" fill="#2e4b7f" stroke="#1d3670" stroke-width="0.5"/>
<line x1="363.4" y1="155.93" x2="363.4" y2="151.77" stroke="#141414" stroke-width="1.0"/>
<line x1="362.6" y1="152.12" x2="364.2" y2="152.12" stroke="#141414" stroke-width="0.7"/>
<circle cx="363.4" cy="148.07" r="0.95" fill="#141414"/>
<rect x="373.3" y="162.92" width="7.7" height="53.38" fill="#2e4b7f" stroke="#1d3670" stroke-width="0.5"/>
<line x1="377.15" y1="162.67" x2="377.15" y2="155.86" stroke="#141414" stroke-width="1.0"/>
<line x1="376.35" y1="156.21" x2="377.95" y2="156.21" stroke="#141414" stroke-width="0.7"/>
<circle cx="377.15" cy="152.16" r="0.95" fill="#141414"/>
<line x1="301.4" y1="141.8" x2="301.4" y2="218.9" stroke="#141414" stroke-width="1.1"/>
<line x1="300.85" y1="216.3" x2="387.1" y2="216.3" stroke="#141414" stroke-width="1.15"/>
<line x1="315.4" y1="216.3" x2="315.4" y2="218.9" stroke="#141414" stroke-width="1.0"/>
<line x1="329.1" y1="216.3" x2="329.1" y2="218.9" stroke="#141414" stroke-width="1.0"/>
<line x1="342.8" y1="216.3" x2="342.8" y2="218.9" stroke="#141414" stroke-width="1.0"/>
<line x1="356.5" y1="216.3" x2="356.5" y2="218.9" stroke="#141414" stroke-width="1.0"/>
<line x1="370.3" y1="216.3" x2="370.3" y2="218.9" stroke="#141414" stroke-width="1.0"/>
<line x1="384" y1="216.3" x2="384" y2="218.9" stroke="#141414" stroke-width="1.0"/>
<line x1="298.1" y1="216.3" x2="301.4" y2="216.3" stroke="#141414" stroke-width="1.0"/>
<text x="295.6" y="218.15" font-size="5.6" text-anchor="end">0</text>
<line x1="298.1" y1="209.13" x2="301.4" y2="209.13" stroke="#141414" stroke-width="1.0"/>
<text x="295.6" y="210.98" font-size="5.6" text-anchor="end">10</text>
<line x1="298.1" y1="201.96" x2="301.4" y2="201.96" stroke="#141414" stroke-width="1.0"/>
<text x="295.6" y="203.81" font-size="5.6" text-anchor="end">20</text>
<line x1="298.1" y1="194.79" x2="301.4" y2="194.79" stroke="#141414" stroke-width="1.0"/>
<text x="295.6" y="196.64" font-size="5.6" text-anchor="end">30</text>
<line x1="298.1" y1="187.62" x2="301.4" y2="187.62" stroke="#141414" stroke-width="1.0"/>
<text x="295.6" y="189.47" font-size="5.6" text-anchor="end">40</text>
<line x1="298.1" y1="180.45" x2="301.4" y2="180.45" stroke="#141414" stroke-width="1.0"/>
<text x="295.6" y="182.3" font-size="5.6" text-anchor="end">50</text>
<line x1="298.1" y1="173.28" x2="301.4" y2="173.28" stroke="#141414" stroke-width="1.0"/>
<text x="295.6" y="175.13" font-size="5.6" text-anchor="end">60</text>
<line x1="298.1" y1="166.11" x2="301.4" y2="166.11" stroke="#141414" stroke-width="1.0"/>
<text x="295.6" y="167.96" font-size="5.6" text-anchor="end">70</text>
<line x1="298.1" y1="158.94" x2="301.4" y2="158.94" stroke="#141414" stroke-width="1.0"/>
<text x="295.6" y="160.79" font-size="5.6" text-anchor="end">80</text>
<line x1="298.1" y1="151.77" x2="301.4" y2="151.77" stroke="#141414" stroke-width="1.0"/>
<text x="295.6" y="153.62" font-size="5.6" text-anchor="end">90</text>
<line x1="298.1" y1="144.6" x2="301.4" y2="144.6" stroke="#141414" stroke-width="1.0"/>
<text x="295.6" y="146.45" font-size="5.6" text-anchor="end">100</text>
<text x="308.45" y="227.65" font-size="6.2" text-anchor="middle" textLength="6.9" lengthAdjust="spacingAndGlyphs">Co</text>
<text x="322.25" y="227.65" font-size="6.2" text-anchor="middle" textLength="7.51" lengthAdjust="spacingAndGlyphs">0.1</text>
<text x="335.95" y="227.65" font-size="6.2" text-anchor="middle" textLength="7.51" lengthAdjust="spacingAndGlyphs">0.5</text>
<text x="349.65" y="227.65" font-size="6.2" text-anchor="middle" textLength="3" lengthAdjust="spacingAndGlyphs">1</text>
<text x="363.4" y="227.65" font-size="6.2" text-anchor="middle" textLength="7.51" lengthAdjust="spacingAndGlyphs">2.5</text>
<text x="377.15" y="227.65" font-size="6.2" text-anchor="middle" textLength="3" lengthAdjust="spacingAndGlyphs">5</text>
<path d="M315.4 226.5V230.4H384V226.5" fill="none" stroke="#141414" stroke-width="0.95"/>
<text x="347.8" y="238.9" font-size="6.3" text-anchor="middle" textLength="37" lengthAdjust="spacingAndGlyphs">RDEA119 [µM]</text>
<text class="t" x="331.8" y="135.7" font-size="6.1" textLength="24.8" lengthAdjust="spacingAndGlyphs"><tspan font-style="italic">MCPV</tspan>-1.3</text>
<text class="y" transform="translate(279.9,179.05) rotate(-90)" font-size="8.8" text-anchor="middle" textLength="84" lengthAdjust="spacingAndGlyphs">Staining index [% of Co]</text>
<rect x="428" y="153.97" width="8.2" height="61.33" fill="#c5c3c8"/>
<line x1="432.1" y1="153.97" x2="432.1" y2="153.59" stroke="#141414" stroke-width="1.0"/>
<line x1="431.3" y1="153.94" x2="432.9" y2="153.94" stroke="#141414" stroke-width="0.7"/>
<rect x="441.95" y="158.39" width="7.7" height="57.91" fill="#2e4b7f" stroke="#1d3670" stroke-width="0.5"/>
<line x1="445.8" y1="158.14" x2="445.8" y2="142.5" stroke="#141414" stroke-width="1.0"/>
<line x1="445" y1="142.85" x2="446.6" y2="142.85" stroke="#141414" stroke-width="0.7"/>
<rect x="455.6" y="157.52" width="7.7" height="58.78" fill="#2e4b7f" stroke="#1d3670" stroke-width="0.5"/>
<line x1="459.45" y1="157.27" x2="459.45" y2="147.23" stroke="#141414" stroke-width="1.0"/>
<line x1="458.65" y1="147.58" x2="460.25" y2="147.58" stroke="#141414" stroke-width="0.7"/>
<rect x="469.25" y="163.94" width="7.7" height="52.36" fill="#2e4b7f" stroke="#1d3670" stroke-width="0.5"/>
<line x1="473.1" y1="163.69" x2="473.1" y2="155.21" stroke="#141414" stroke-width="1.0"/>
<line x1="472.3" y1="155.56" x2="473.9" y2="155.56" stroke="#141414" stroke-width="0.7"/>
<rect x="482.95" y="163.63" width="7.7" height="52.67" fill="#2e4b7f" stroke="#1d3670" stroke-width="0.5"/>
<line x1="486.8" y1="163.38" x2="486.8" y2="162.19" stroke="#141414" stroke-width="1.0"/>
<line x1="486" y1="162.54" x2="487.6" y2="162.54" stroke="#141414" stroke-width="0.7"/>
<circle cx="486.8" cy="158.49" r="0.95" fill="#141414"/>
<rect x="496.75" y="166.56" width="7.7" height="49.74" fill="#2e4b7f" stroke="#1d3670" stroke-width="0.5"/>
<line x1="500.6" y1="166.31" x2="500.6" y2="161.07" stroke="#141414" stroke-width="1.0"/>
<line x1="499.8" y1="161.42" x2="501.4" y2="161.42" stroke="#141414" stroke-width="0.7"/>
<circle cx="500.6" cy="157.37" r="0.95" fill="#141414"/>
<line x1="425.1" y1="138.7" x2="425.1" y2="218.9" stroke="#141414" stroke-width="1.1"/>
<line x1="424.55" y1="216.3" x2="510.7" y2="216.3" stroke="#141414" stroke-width="1.15"/>
<line x1="439" y1="216.3" x2="439" y2="218.9" stroke="#141414" stroke-width="1.0"/>
<line x1="452.6" y1="216.3" x2="452.6" y2="218.9" stroke="#141414" stroke-width="1.0"/>
<line x1="466.3" y1="216.3" x2="466.3" y2="218.9" stroke="#141414" stroke-width="1.0"/>
<line x1="479.9" y1="216.3" x2="479.9" y2="218.9" stroke="#141414" stroke-width="1.0"/>
<line x1="493.7" y1="216.3" x2="493.7" y2="218.9" stroke="#141414" stroke-width="1.0"/>
<line x1="507.5" y1="216.3" x2="507.5" y2="218.9" stroke="#141414" stroke-width="1.0"/>
<line x1="421.8" y1="216.3" x2="425.1" y2="216.3" stroke="#141414" stroke-width="1.0"/>
<text x="419.3" y="218.15" font-size="5.6" text-anchor="end">0</text>
<line x1="421.8" y1="210.07" x2="425.1" y2="210.07" stroke="#141414" stroke-width="1.0"/>
<text x="419.3" y="211.92" font-size="5.6" text-anchor="end">10</text>
<line x1="421.8" y1="203.83" x2="425.1" y2="203.83" stroke="#141414" stroke-width="1.0"/>
<text x="419.3" y="205.68" font-size="5.6" text-anchor="end">20</text>
<line x1="421.8" y1="197.6" x2="425.1" y2="197.6" stroke="#141414" stroke-width="1.0"/>
<text x="419.3" y="199.45" font-size="5.6" text-anchor="end">30</text>
<line x1="421.8" y1="191.37" x2="425.1" y2="191.37" stroke="#141414" stroke-width="1.0"/>
<text x="419.3" y="193.22" font-size="5.6" text-anchor="end">40</text>
<line x1="421.8" y1="185.13" x2="425.1" y2="185.13" stroke="#141414" stroke-width="1.0"/>
<text x="419.3" y="186.98" font-size="5.6" text-anchor="end">50</text>
<line x1="421.8" y1="178.9" x2="425.1" y2="178.9" stroke="#141414" stroke-width="1.0"/>
<text x="419.3" y="180.75" font-size="5.6" text-anchor="end">60</text>
<line x1="421.8" y1="172.67" x2="425.1" y2="172.67" stroke="#141414" stroke-width="1.0"/>
<text x="419.3" y="174.52" font-size="5.6" text-anchor="end">70</text>
<line x1="421.8" y1="166.43" x2="425.1" y2="166.43" stroke="#141414" stroke-width="1.0"/>
<text x="419.3" y="168.28" font-size="5.6" text-anchor="end">80</text>
<line x1="421.8" y1="160.2" x2="425.1" y2="160.2" stroke="#141414" stroke-width="1.0"/>
<text x="419.3" y="162.05" font-size="5.6" text-anchor="end">90</text>
<line x1="421.8" y1="153.97" x2="425.1" y2="153.97" stroke="#141414" stroke-width="1.0"/>
<text x="419.3" y="155.82" font-size="5.6" text-anchor="end">100</text>
<line x1="421.8" y1="147.73" x2="425.1" y2="147.73" stroke="#141414" stroke-width="1.0"/>
<text x="419.3" y="149.58" font-size="5.6" text-anchor="end">110</text>
<line x1="421.8" y1="141.5" x2="425.1" y2="141.5" stroke="#141414" stroke-width="1.0"/>
<text x="419.3" y="143.35" font-size="5.6" text-anchor="end">120</text>
<text x="432.1" y="227.65" font-size="6.2" text-anchor="middle" textLength="6.9" lengthAdjust="spacingAndGlyphs">Co</text>
<text x="445.8" y="227.65" font-size="6.2" text-anchor="middle" textLength="7.51" lengthAdjust="spacingAndGlyphs">0.1</text>
<text x="459.45" y="227.65" font-size="6.2" text-anchor="middle" textLength="7.51" lengthAdjust="spacingAndGlyphs">0.5</text>
<text x="473.1" y="227.65" font-size="6.2" text-anchor="middle" textLength="3" lengthAdjust="spacingAndGlyphs">1</text>
<text x="486.8" y="227.65" font-size="6.2" text-anchor="middle" textLength="7.51" lengthAdjust="spacingAndGlyphs">2.5</text>
<text x="500.6" y="227.65" font-size="6.2" text-anchor="middle" textLength="3" lengthAdjust="spacingAndGlyphs">5</text>
<path d="M439 226.5V230.4H507.5V226.5" fill="none" stroke="#141414" stroke-width="0.95"/>
<text x="471.35" y="238.9" font-size="6.3" text-anchor="middle" textLength="37" lengthAdjust="spacingAndGlyphs">RDEA119 [µM]</text>
<text class="t" x="455.3" y="135.7" font-size="6.1" textLength="24.8" lengthAdjust="spacingAndGlyphs"><tspan font-style="italic">MCPV</tspan>-1.4</text>
<text class="y" transform="translate(403.6,177.5) rotate(-90)" font-size="8.8" text-anchor="middle" textLength="84" lengthAdjust="spacingAndGlyphs">Staining index [% of Co]</text>
<rect x="49.18" y="289.22" width="7.1" height="47.58" fill="#c5c3c8"/>
<line x1="52.73" y1="289.22" x2="52.73" y2="270.57" stroke="#141414" stroke-width="1.0"/>
<line x1="51.93" y1="270.92" x2="53.52" y2="270.92" stroke="#141414" stroke-width="0.7"/>
<rect x="62.4" y="317.77" width="6.6" height="20.03" fill="#2e4b7f" stroke="#1d3670" stroke-width="0.5"/>
<line x1="65.7" y1="317.52" x2="65.7" y2="313.95" stroke="#141414" stroke-width="1.0"/>
<line x1="64.9" y1="314.3" x2="66.5" y2="314.3" stroke="#141414" stroke-width="0.7"/>
<rect x="75.3" y="325.04" width="6.6" height="12.76" fill="#2e4b7f" stroke="#1d3670" stroke-width="0.5"/>
<line x1="78.6" y1="324.79" x2="78.6" y2="320.45" stroke="#141414" stroke-width="1.0"/>
<line x1="77.8" y1="320.8" x2="79.4" y2="320.8" stroke="#141414" stroke-width="0.7"/>
<circle cx="78.6" cy="316.75" r="0.95" fill="#141414"/>
<rect x="88.2" y="333.93" width="6.6" height="3.87" fill="#2e4b7f" stroke="#1d3670" stroke-width="0.5"/>
<line x1="91.5" y1="333.68" x2="91.5" y2="331.51" stroke="#141414" stroke-width="1.0"/>
<line x1="90.7" y1="331.86" x2="92.3" y2="331.86" stroke="#141414" stroke-width="0.7"/>
<circle cx="91.5" cy="327.81" r="0.95" fill="#141414"/>
<rect x="101.1" y="334.58" width="6.6" height="3.22" fill="#2e4b7f" stroke="#1d3670" stroke-width="0.5"/>
<line x1="104.4" y1="334.33" x2="104.4" y2="333.46" stroke="#141414" stroke-width="1.0"/>
<line x1="103.6" y1="333.81" x2="105.2" y2="333.81" stroke="#141414" stroke-width="0.7"/>
<circle cx="104.4" cy="329.76" r="0.95" fill="#141414"/>
<rect x="113.98" y="334.58" width="6.6" height="3.22" fill="#2e4b7f" stroke="#1d3670" stroke-width="0.5"/>
<line x1="117.28" y1="334.33" x2="117.28" y2="333.25" stroke="#141414" stroke-width="1.0"/>
<line x1="116.48" y1="333.6" x2="118.08" y2="333.6" stroke="#141414" stroke-width="0.7"/>
<circle cx="117.28" cy="329.55" r="0.95" fill="#141414"/>
<line x1="46.3" y1="259.2" x2="46.3" y2="340.4" stroke="#141414" stroke-width="1.1"/>
<line x1="45.75" y1="337.8" x2="126.8" y2="337.8" stroke="#141414" stroke-width="1.15"/>
<line x1="59.2" y1="337.8" x2="59.2" y2="340.4" stroke="#141414" stroke-width="1.0"/>
<line x1="72.2" y1="337.8" x2="72.2" y2="340.4" stroke="#141414" stroke-width="1.0"/>
<line x1="85" y1="337.8" x2="85" y2="340.4" stroke="#141414" stroke-width="1.0"/>
<line x1="98" y1="337.8" x2="98" y2="340.4" stroke="#141414" stroke-width="1.0"/>
<line x1="110.8" y1="337.8" x2="110.8" y2="340.4" stroke="#141414" stroke-width="1.0"/>
<line x1="123.75" y1="337.8" x2="123.75" y2="340.4" stroke="#141414" stroke-width="1.0"/>
<line x1="43" y1="337.8" x2="46.3" y2="337.8" stroke="#141414" stroke-width="1.0"/>
<text x="40.5" y="339.65" font-size="5.6" text-anchor="end">0</text>
<line x1="43" y1="326.96" x2="46.3" y2="326.96" stroke="#141414" stroke-width="1.0"/>
<text x="40.5" y="328.81" font-size="5.6" text-anchor="end">0.5</text>
<line x1="43" y1="316.11" x2="46.3" y2="316.11" stroke="#141414" stroke-width="1.0"/>
<text x="40.5" y="317.96" font-size="5.6" text-anchor="end">1</text>
<line x1="43" y1="305.27" x2="46.3" y2="305.27" stroke="#141414" stroke-width="1.0"/>
<text x="40.5" y="307.12" font-size="5.6" text-anchor="end">1.5</text>
<line x1="43" y1="294.43" x2="46.3" y2="294.43" stroke="#141414" stroke-width="1.0"/>
<text x="40.5" y="296.28" font-size="5.6" text-anchor="end">2</text>
<line x1="43" y1="283.59" x2="46.3" y2="283.59" stroke="#141414" stroke-width="1.0"/>
<text x="40.5" y="285.44" font-size="5.6" text-anchor="end">2.5</text>
<line x1="43" y1="272.74" x2="46.3" y2="272.74" stroke="#141414" stroke-width="1.0"/>
<text x="40.5" y="274.59" font-size="5.6" text-anchor="end">3</text>
<line x1="43" y1="261.9" x2="46.3" y2="261.9" stroke="#141414" stroke-width="1.0"/>
<text x="40.5" y="263.75" font-size="5.6" text-anchor="end">3.5</text>
<text x="52.73" y="349.15" font-size="6.2" text-anchor="middle" textLength="6.9" lengthAdjust="spacingAndGlyphs">Co</text>
<text x="65.7" y="349.15" font-size="6.2" text-anchor="middle" textLength="7.51" lengthAdjust="spacingAndGlyphs">0.1</text>
<text x="78.6" y="349.15" font-size="6.2" text-anchor="middle" textLength="7.51" lengthAdjust="spacingAndGlyphs">0.5</text>
<text x="91.5" y="349.15" font-size="6.2" text-anchor="middle" textLength="3" lengthAdjust="spacingAndGlyphs">1</text>
<text x="104.4" y="349.15" font-size="6.2" text-anchor="middle" textLength="7.51" lengthAdjust="spacingAndGlyphs">2.5</text>
<text x="117.28" y="349.15" font-size="6.2" text-anchor="middle" textLength="3" lengthAdjust="spacingAndGlyphs">5</text>
<path d="M59.2 348V351.9H123.75V348" fill="none" stroke="#141414" stroke-width="0.95"/>
<text x="89.57" y="360.1" font-size="6.3" text-anchor="middle" textLength="37" lengthAdjust="spacingAndGlyphs">RDEA119 [µM]</text>
<text class="t" x="75.9" y="257.4" font-size="6.1" textLength="14.1" lengthAdjust="spacingAndGlyphs">ROSA</text>
<text class="t" x="90.4" y="254.9" font-size="3.3" textLength="10.8" lengthAdjust="spacingAndGlyphs">KIT WT</text>
<text transform="translate(15.9,337.6) rotate(-90)" font-size="8.2" textLength="77" lengthAdjust="spacingAndGlyphs">Copies of CD44 mRNA</text>
<text transform="translate(26.4,352.6) rotate(-90)" font-size="8.2" textLength="102.9" lengthAdjust="spacingAndGlyphs">% of human ABL1 mRNA [x10</text>
<text transform="translate(23.1,249.3) rotate(-90)" font-size="4.6">3</text>
<text transform="translate(26.4,246.9) rotate(-90)" font-size="8.2">]</text>
<rect x="181.05" y="281.81" width="7.1" height="54.99" fill="#c5c3c8"/>
<line x1="184.6" y1="281.81" x2="184.6" y2="269.15" stroke="#141414" stroke-width="1.0"/>
<line x1="183.8" y1="269.5" x2="185.4" y2="269.5" stroke="#141414" stroke-width="0.7"/>
<rect x="194.1" y="290.17" width="6.6" height="47.63" fill="#2e4b7f" stroke="#1d3670" stroke-width="0.5"/>
<line x1="197.4" y1="289.92" x2="197.4" y2="280.04" stroke="#141414" stroke-width="1.0"/>
<line x1="196.6" y1="280.39" x2="198.2" y2="280.39" stroke="#141414" stroke-width="0.7"/>
<rect x="207" y="306.38" width="6.6" height="31.42" fill="#2e4b7f" stroke="#1d3670" stroke-width="0.5"/>
<line x1="210.3" y1="306.13" x2="210.3" y2="296.25" stroke="#141414" stroke-width="1.0"/>
<line x1="209.5" y1="296.6" x2="211.1" y2="296.6" stroke="#141414" stroke-width="0.7"/>
<circle cx="210.3" cy="292.55" r="0.95" fill="#141414"/>
<rect x="219.9" y="323.36" width="6.6" height="14.44" fill="#2e4b7f" stroke="#1d3670" stroke-width="0.5"/>
<line x1="223.2" y1="323.11" x2="223.2" y2="311.71" stroke="#141414" stroke-width="1.0"/>
<line x1="222.4" y1="312.06" x2="224" y2="312.06" stroke="#141414" stroke-width="0.7"/>
<circle cx="223.2" cy="308.01" r="0.95" fill="#141414"/>
<rect x="232.85" y="334.76" width="6.6" height="3.04" fill="#2e4b7f" stroke="#1d3670" stroke-width="0.5"/>
<line x1="236.15" y1="334.51" x2="236.15" y2="332.48" stroke="#141414" stroke-width="1.0"/>
<line x1="235.35" y1="332.83" x2="236.95" y2="332.83" stroke="#141414" stroke-width="0.7"/>
<circle cx="236.15" cy="328.78" r="0.95" fill="#141414"/>
<rect x="245.85" y="334.76" width="6.6" height="3.04" fill="#2e4b7f" stroke="#1d3670" stroke-width="0.5"/>
<line x1="249.15" y1="334.51" x2="249.15" y2="331.47" stroke="#141414" stroke-width="1.0"/>
<line x1="248.35" y1="331.82" x2="249.95" y2="331.82" stroke="#141414" stroke-width="0.7"/>
<circle cx="249.15" cy="327.77" r="0.95" fill="#141414"/>
<line x1="177.9" y1="259.2" x2="177.9" y2="340.4" stroke="#141414" stroke-width="1.1"/>
<line x1="177.35" y1="337.8" x2="258.75" y2="337.8" stroke="#141414" stroke-width="1.15"/>
<line x1="191" y1="337.8" x2="191" y2="340.4" stroke="#141414" stroke-width="1.0"/>
<line x1="203.8" y1="337.8" x2="203.8" y2="340.4" stroke="#141414" stroke-width="1.0"/>
<line x1="216.8" y1="337.8" x2="216.8" y2="340.4" stroke="#141414" stroke-width="1.0"/>
<line x1="229.6" y1="337.8" x2="229.6" y2="340.4" stroke="#141414" stroke-width="1.0"/>
<line x1="242.7" y1="337.8" x2="242.7" y2="340.4" stroke="#141414" stroke-width="1.0"/>
<line x1="255.6" y1="337.8" x2="255.6" y2="340.4" stroke="#141414" stroke-width="1.0"/>
<line x1="174.6" y1="337.8" x2="177.9" y2="337.8" stroke="#141414" stroke-width="1.0"/>
<text x="172.1" y="339.65" font-size="5.6" text-anchor="end">0</text>
<line x1="174.6" y1="325.13" x2="177.9" y2="325.13" stroke="#141414" stroke-width="1.0"/>
<text x="172.1" y="326.98" font-size="5.6" text-anchor="end">0.5</text>
<line x1="174.6" y1="312.47" x2="177.9" y2="312.47" stroke="#141414" stroke-width="1.0"/>
<text x="172.1" y="314.32" font-size="5.6" text-anchor="end">1</text>
<line x1="174.6" y1="299.8" x2="177.9" y2="299.8" stroke="#141414" stroke-width="1.0"/>
<text x="172.1" y="301.65" font-size="5.6" text-anchor="end">1.5</text>
<line x1="174.6" y1="287.13" x2="177.9" y2="287.13" stroke="#141414" stroke-width="1.0"/>
<text x="172.1" y="288.98" font-size="5.6" text-anchor="end">2</text>
<line x1="174.6" y1="274.47" x2="177.9" y2="274.47" stroke="#141414" stroke-width="1.0"/>
<text x="172.1" y="276.32" font-size="5.6" text-anchor="end">2.5</text>
<line x1="174.6" y1="261.8" x2="177.9" y2="261.8" stroke="#141414" stroke-width="1.0"/>
<text x="172.1" y="263.65" font-size="5.6" text-anchor="end">3</text>
<text x="184.6" y="349.15" font-size="6.2" text-anchor="middle" textLength="6.9" lengthAdjust="spacingAndGlyphs">Co</text>
<text x="197.4" y="349.15" font-size="6.2" text-anchor="middle" textLength="7.51" lengthAdjust="spacingAndGlyphs">0.1</text>
<text x="210.3" y="349.15" font-size="6.2" text-anchor="middle" textLength="7.51" lengthAdjust="spacingAndGlyphs">0.5</text>
<text x="223.2" y="349.15" font-size="6.2" text-anchor="middle" textLength="3" lengthAdjust="spacingAndGlyphs">1</text>
<text x="236.15" y="349.15" font-size="6.2" text-anchor="middle" textLength="7.51" lengthAdjust="spacingAndGlyphs">2.5</text>
<text x="249.15" y="349.15" font-size="6.2" text-anchor="middle" textLength="3" lengthAdjust="spacingAndGlyphs">5</text>
<path d="M191 348V351.9H255.6V348" fill="none" stroke="#141414" stroke-width="0.95"/>
<text x="221.4" y="360.1" font-size="6.3" text-anchor="middle" textLength="37" lengthAdjust="spacingAndGlyphs">RDEA119 [µM]</text>
<text class="t" x="204.1" y="257.6" font-size="6.1" textLength="14.5" lengthAdjust="spacingAndGlyphs">ROSA</text>
<text class="t" x="219" y="255.1" font-size="3.3" textLength="18" lengthAdjust="spacingAndGlyphs">KIT D816V</text>
<text transform="translate(147.5,337.6) rotate(-90)" font-size="8.2" textLength="77" lengthAdjust="spacingAndGlyphs">Copies of CD44 mRNA</text>
<text transform="translate(158,352.6) rotate(-90)" font-size="8.2" textLength="102.9" lengthAdjust="spacingAndGlyphs">% of human ABL1 mRNA [x10</text>
<text transform="translate(154.7,249.3) rotate(-90)" font-size="4.6">3</text>
<text transform="translate(158,246.9) rotate(-90)" font-size="8.2">]</text>
<rect x="304.25" y="263.1" width="8.4" height="73.7" fill="#c5c3c8"/>
<line x1="308.45" y1="263.1" x2="308.45" y2="262.65" stroke="#141414" stroke-width="1.0"/>
<line x1="307.65" y1="263" x2="309.25" y2="263" stroke="#141414" stroke-width="0.7"/>
<rect x="318.55" y="280.38" width="7.9" height="57.42" fill="#2e4b7f" stroke="#1d3670" stroke-width="0.5"/>
<line x1="322.5" y1="280.13" x2="322.5" y2="271.99" stroke="#141414" stroke-width="1.0"/>
<line x1="321.7" y1="272.34" x2="323.3" y2="272.34" stroke="#141414" stroke-width="0.7"/>
<circle cx="322.5" cy="268.29" r="0.95" fill="#141414"/>
<rect x="332.55" y="296.29" width="7.9" height="41.51" fill="#2e4b7f" stroke="#1d3670" stroke-width="0.5"/>
<line x1="336.5" y1="296.04" x2="336.5" y2="293.88" stroke="#141414" stroke-width="1.0"/>
<line x1="335.7" y1="294.23" x2="337.3" y2="294.23" stroke="#141414" stroke-width="0.7"/>
<circle cx="336.5" cy="290.18" r="0.95" fill="#141414"/>
<rect x="346.85" y="304.06" width="7.9" height="33.74" fill="#2e4b7f" stroke="#1d3670" stroke-width="0.5"/>
<line x1="350.8" y1="303.81" x2="350.8" y2="300.3" stroke="#141414" stroke-width="1.0"/>
<line x1="350" y1="300.65" x2="351.6" y2="300.65" stroke="#141414" stroke-width="0.7"/>
<circle cx="350.8" cy="296.6" r="0.95" fill="#141414"/>
<rect x="360.75" y="307.12" width="7.9" height="30.68" fill="#2e4b7f" stroke="#1d3670" stroke-width="0.5"/>
<line x1="364.7" y1="306.87" x2="364.7" y2="305.16" stroke="#141414" stroke-width="1.0"/>
<line x1="363.9" y1="305.51" x2="365.5" y2="305.51" stroke="#141414" stroke-width="0.7"/>
<circle cx="364.7" cy="301.46" r="0.95" fill="#141414"/>
<rect x="374.75" y="305.93" width="7.9" height="31.87" fill="#2e4b7f" stroke="#1d3670" stroke-width="0.5"/>
<line x1="378.7" y1="305.68" x2="378.7" y2="302.02" stroke="#141414" stroke-width="1.0"/>
<line x1="377.9" y1="302.37" x2="379.5" y2="302.37" stroke="#141414" stroke-width="0.7"/>
<circle cx="378.7" cy="298.32" r="0.95" fill="#141414"/>
<line x1="301.4" y1="260.4" x2="301.4" y2="340.4" stroke="#141414" stroke-width="1.1"/>
<line x1="300.85" y1="337.8" x2="386.9" y2="337.8" stroke="#141414" stroke-width="1.15"/>
<line x1="315.2" y1="337.8" x2="315.2" y2="340.4" stroke="#141414" stroke-width="1.0"/>
<line x1="328.8" y1="337.8" x2="328.8" y2="340.4" stroke="#141414" stroke-width="1.0"/>
<line x1="342.7" y1="337.8" x2="342.7" y2="340.4" stroke="#141414" stroke-width="1.0"/>
<line x1="356.5" y1="337.8" x2="356.5" y2="340.4" stroke="#141414" stroke-width="1.0"/>
<line x1="370.6" y1="337.8" x2="370.6" y2="340.4" stroke="#141414" stroke-width="1.0"/>
<line x1="384.2" y1="337.8" x2="384.2" y2="340.4" stroke="#141414" stroke-width="1.0"/>
<line x1="298.1" y1="337.8" x2="301.4" y2="337.8" stroke="#141414" stroke-width="1.0"/>
<text x="295.6" y="339.65" font-size="5.6" text-anchor="end">0</text>
<line x1="298.1" y1="330.33" x2="301.4" y2="330.33" stroke="#141414" stroke-width="1.0"/>
<text x="295.6" y="332.18" font-size="5.6" text-anchor="end">10</text>
<line x1="298.1" y1="322.86" x2="301.4" y2="322.86" stroke="#141414" stroke-width="1.0"/>
<text x="295.6" y="324.71" font-size="5.6" text-anchor="end">20</text>
<line x1="298.1" y1="315.39" x2="301.4" y2="315.39" stroke="#141414" stroke-width="1.0"/>
<text x="295.6" y="317.24" font-size="5.6" text-anchor="end">30</text>
<line x1="298.1" y1="307.92" x2="301.4" y2="307.92" stroke="#141414" stroke-width="1.0"/>
<text x="295.6" y="309.77" font-size="5.6" text-anchor="end">40</text>
<line x1="298.1" y1="300.45" x2="301.4" y2="300.45" stroke="#141414" stroke-width="1.0"/>
<text x="295.6" y="302.3" font-size="5.6" text-anchor="end">50</text>
<line x1="298.1" y1="292.98" x2="301.4" y2="292.98" stroke="#141414" stroke-width="1.0"/>
<text x="295.6" y="294.83" font-size="5.6" text-anchor="end">60</text>
<line x1="298.1" y1="285.51" x2="301.4" y2="285.51" stroke="#141414" stroke-width="1.0"/>
<text x="295.6" y="287.36" font-size="5.6" text-anchor="end">70</text>
<line x1="298.1" y1="278.04" x2="301.4" y2="278.04" stroke="#141414" stroke-width="1.0"/>
<text x="295.6" y="279.89" font-size="5.6" text-anchor="end">80</text>
<line x1="298.1" y1="270.57" x2="301.4" y2="270.57" stroke="#141414" stroke-width="1.0"/>
<text x="295.6" y="272.42" font-size="5.6" text-anchor="end">90</text>
<line x1="298.1" y1="263.1" x2="301.4" y2="263.1" stroke="#141414" stroke-width="1.0"/>
<text x="295.6" y="264.95" font-size="5.6" text-anchor="end">100</text>
<text x="308.45" y="349.15" font-size="6.2" text-anchor="middle" textLength="6.9" lengthAdjust="spacingAndGlyphs">Co</text>
<text x="322.5" y="349.15" font-size="6.2" text-anchor="middle" textLength="7.51" lengthAdjust="spacingAndGlyphs">0.1</text>
<text x="336.5" y="349.15" font-size="6.2" text-anchor="middle" textLength="7.51" lengthAdjust="spacingAndGlyphs">0.5</text>
<text x="350.8" y="349.15" font-size="6.2" text-anchor="middle" textLength="3" lengthAdjust="spacingAndGlyphs">1</text>
<text x="364.7" y="349.15" font-size="6.2" text-anchor="middle" textLength="7.51" lengthAdjust="spacingAndGlyphs">2.5</text>
<text x="378.7" y="349.15" font-size="6.2" text-anchor="middle" textLength="3" lengthAdjust="spacingAndGlyphs">5</text>
<path d="M315.2 348V351.9H384.2V348" fill="none" stroke="#141414" stroke-width="0.95"/>
<text x="347.8" y="360.1" font-size="6.3" text-anchor="middle" textLength="37" lengthAdjust="spacingAndGlyphs">RDEA119 [µM]</text>
<text class="t" x="331.3" y="257.6" font-size="6.1" textLength="14.1" lengthAdjust="spacingAndGlyphs">ROSA</text>
<text class="t" x="345.8" y="255.1" font-size="3.3" textLength="11.4" lengthAdjust="spacingAndGlyphs">KIT WT</text>
<text class="y" transform="translate(279.9,299.1) rotate(-90)" font-size="8.8" text-anchor="middle" textLength="84" lengthAdjust="spacingAndGlyphs">Staining index [% of Co]</text>
<rect x="428.05" y="262.7" width="8.3" height="74.1" fill="#c5c3c8"/>
<line x1="432.2" y1="262.7" x2="432.2" y2="262.25" stroke="#141414" stroke-width="1.0"/>
<line x1="431.4" y1="262.6" x2="433" y2="262.6" stroke="#141414" stroke-width="0.7"/>
<rect x="442.2" y="276.39" width="7.8" height="61.41" fill="#2e4b7f" stroke="#1d3670" stroke-width="0.5"/>
<line x1="446.1" y1="276.14" x2="446.1" y2="267.13" stroke="#141414" stroke-width="1.0"/>
<line x1="445.3" y1="267.48" x2="446.9" y2="267.48" stroke="#141414" stroke-width="0.7"/>
<circle cx="446.1" cy="263.43" r="0.95" fill="#141414"/>
<rect x="456.55" y="286.98" width="7.8" height="50.82" fill="#2e4b7f" stroke="#1d3670" stroke-width="0.5"/>
<line x1="460.45" y1="286.73" x2="460.45" y2="285.31" stroke="#141414" stroke-width="1.0"/>
<line x1="459.65" y1="285.66" x2="461.25" y2="285.66" stroke="#141414" stroke-width="0.7"/>
<circle cx="460.45" cy="281.61" r="0.95" fill="#141414"/>
<rect x="470.25" y="302" width="7.8" height="35.8" fill="#2e4b7f" stroke="#1d3670" stroke-width="0.5"/>
<line x1="474.15" y1="301.75" x2="474.15" y2="301.08" stroke="#141414" stroke-width="1.0"/>
<line x1="473.35" y1="301.43" x2="474.95" y2="301.43" stroke="#141414" stroke-width="0.7"/>
<circle cx="474.15" cy="297.38" r="0.95" fill="#141414"/>
<rect x="484.65" y="304.48" width="7.8" height="33.32" fill="#2e4b7f" stroke="#1d3670" stroke-width="0.5"/>
<line x1="488.55" y1="304.23" x2="488.55" y2="300.33" stroke="#141414" stroke-width="1.0"/>
<line x1="487.75" y1="300.68" x2="489.35" y2="300.68" stroke="#141414" stroke-width="0.7"/>
<circle cx="488.55" cy="296.63" r="0.95" fill="#141414"/>
<rect x="498.85" y="305.08" width="7.8" height="32.72" fill="#2e4b7f" stroke="#1d3670" stroke-width="0.5"/>
<line x1="502.75" y1="304.83" x2="502.75" y2="301.08" stroke="#141414" stroke-width="1.0"/>
<line x1="501.95" y1="301.43" x2="503.55" y2="301.43" stroke="#141414" stroke-width="0.7"/>
<circle cx="502.75" cy="297.38" r="0.95" fill="#141414"/>
<line x1="425.15" y1="260.4" x2="425.15" y2="340.4" stroke="#141414" stroke-width="1.1"/>
<line x1="424.6" y1="337.8" x2="512.7" y2="337.8" stroke="#141414" stroke-width="1.15"/>
<line x1="439.2" y1="337.8" x2="439.2" y2="340.4" stroke="#141414" stroke-width="1.0"/>
<line x1="453.4" y1="337.8" x2="453.4" y2="340.4" stroke="#141414" stroke-width="1.0"/>
<line x1="467.5" y1="337.8" x2="467.5" y2="340.4" stroke="#141414" stroke-width="1.0"/>
<line x1="481.5" y1="337.8" x2="481.5" y2="340.4" stroke="#141414" stroke-width="1.0"/>
<line x1="495.7" y1="337.8" x2="495.7" y2="340.4" stroke="#141414" stroke-width="1.0"/>
<line x1="509.5" y1="337.8" x2="509.5" y2="340.4" stroke="#141414" stroke-width="1.0"/>
<line x1="421.85" y1="337.8" x2="425.15" y2="337.8" stroke="#141414" stroke-width="1.0"/>
<text x="419.35" y="339.65" font-size="5.6" text-anchor="end">0</text>
<line x1="421.85" y1="330.29" x2="425.15" y2="330.29" stroke="#141414" stroke-width="1.0"/>
<text x="419.35" y="332.14" font-size="5.6" text-anchor="end">10</text>
<line x1="421.85" y1="322.78" x2="425.15" y2="322.78" stroke="#141414" stroke-width="1.0"/>
<text x="419.35" y="324.63" font-size="5.6" text-anchor="end">20</text>
<line x1="421.85" y1="315.27" x2="425.15" y2="315.27" stroke="#141414" stroke-width="1.0"/>
<text x="419.35" y="317.12" font-size="5.6" text-anchor="end">30</text>
<line x1="421.85" y1="307.76" x2="425.15" y2="307.76" stroke="#141414" stroke-width="1.0"/>
<text x="419.35" y="309.61" font-size="5.6" text-anchor="end">40</text>
<line x1="421.85" y1="300.25" x2="425.15" y2="300.25" stroke="#141414" stroke-width="1.0"/>
<text x="419.35" y="302.1" font-size="5.6" text-anchor="end">50</text>
<line x1="421.85" y1="292.74" x2="425.15" y2="292.74" stroke="#141414" stroke-width="1.0"/>
<text x="419.35" y="294.59" font-size="5.6" text-anchor="end">60</text>
<line x1="421.85" y1="285.23" x2="425.15" y2="285.23" stroke="#141414" stroke-width="1.0"/>
<text x="419.35" y="287.08" font-size="5.6" text-anchor="end">70</text>
<line x1="421.85" y1="277.72" x2="425.15" y2="277.72" stroke="#141414" stroke-width="1.0"/>
<text x="419.35" y="279.57" font-size="5.6" text-anchor="end">80</text>
<line x1="421.85" y1="270.21" x2="425.15" y2="270.21" stroke="#141414" stroke-width="1.0"/>
<text x="419.35" y="272.06" font-size="5.6" text-anchor="end">90</text>
<line x1="421.85" y1="262.7" x2="425.15" y2="262.7" stroke="#141414" stroke-width="1.0"/>
<text x="419.35" y="264.55" font-size="5.6" text-anchor="end">100</text>
<text x="432.2" y="349.15" font-size="6.2" text-anchor="middle" textLength="6.9" lengthAdjust="spacingAndGlyphs">Co</text>
<text x="446.1" y="349.15" font-size="6.2" text-anchor="middle" textLength="7.51" lengthAdjust="spacingAndGlyphs">0.1</text>
<text x="460.45" y="349.15" font-size="6.2" text-anchor="middle" textLength="7.51" lengthAdjust="spacingAndGlyphs">0.5</text>
<text x="474.15" y="349.15" font-size="6.2" text-anchor="middle" textLength="3" lengthAdjust="spacingAndGlyphs">1</text>
<text x="488.55" y="349.15" font-size="6.2" text-anchor="middle" textLength="7.51" lengthAdjust="spacingAndGlyphs">2.5</text>
<text x="502.75" y="349.15" font-size="6.2" text-anchor="middle" textLength="3" lengthAdjust="spacingAndGlyphs">5</text>
<path d="M439.2 348V351.9H509.5V348" fill="none" stroke="#141414" stroke-width="0.95"/>
<text x="472.45" y="360.1" font-size="6.3" text-anchor="middle" textLength="37" lengthAdjust="spacingAndGlyphs">RDEA119 [µM]</text>
<text class="t" x="451.8" y="257.6" font-size="6.1" textLength="14.3" lengthAdjust="spacingAndGlyphs">ROSA</text>
<text class="t" x="466.5" y="255.1" font-size="3.3" textLength="17.6" lengthAdjust="spacingAndGlyphs">KIT D816V</text>
<text class="y" transform="translate(403.65,299.1) rotate(-90)" font-size="8.8" text-anchor="middle" textLength="84" lengthAdjust="spacingAndGlyphs">Staining index [% of Co]</text>
<rect x="49.15" y="384.6" width="9.5" height="81.7" fill="#c5c3c8"/>
<line x1="53.9" y1="384.6" x2="53.9" y2="384.1" stroke="#141414" stroke-width="1.0"/>
<line x1="53.1" y1="384.45" x2="54.7" y2="384.45" stroke="#141414" stroke-width="0.7"/>
<rect x="65.4" y="413.13" width="8.5" height="54.17" fill="#4f5669" stroke="#3a4053" stroke-width="0.5"/>
<line x1="69.65" y1="412.88" x2="69.65" y2="404.61" stroke="#141414" stroke-width="1.0"/>
<line x1="68.85" y1="404.96" x2="70.45" y2="404.96" stroke="#141414" stroke-width="0.7"/>
<circle cx="69.65" cy="399.91" r="0.95" fill="#141414"/>
<rect x="81.35" y="417.43" width="8.5" height="49.87" fill="#4f5669" stroke="#3a4053" stroke-width="0.5"/>
<line x1="85.6" y1="417.18" x2="85.6" y2="410.24" stroke="#141414" stroke-width="1.0"/>
<line x1="84.8" y1="410.59" x2="86.4" y2="410.59" stroke="#141414" stroke-width="0.7"/>
<circle cx="85.6" cy="405.54" r="0.95" fill="#141414"/>
<rect x="97.35" y="423.55" width="8.5" height="43.75" fill="#4f5669" stroke="#3a4053" stroke-width="0.5"/>
<line x1="101.6" y1="423.3" x2="101.6" y2="415.12" stroke="#141414" stroke-width="1.0"/>
<line x1="100.8" y1="415.47" x2="102.4" y2="415.47" stroke="#141414" stroke-width="0.7"/>
<circle cx="101.6" cy="410.42" r="0.95" fill="#141414"/>
<rect x="113.3" y="422.31" width="8.5" height="44.99" fill="#4f5669" stroke="#3a4053" stroke-width="0.5"/>
<line x1="117.55" y1="422.06" x2="117.55" y2="416.03" stroke="#141414" stroke-width="1.0"/>
<line x1="116.75" y1="416.38" x2="118.35" y2="416.38" stroke="#141414" stroke-width="0.7"/>
<circle cx="117.55" cy="411.33" r="0.95" fill="#141414"/>
<line x1="46.4" y1="382.5" x2="46.4" y2="469.9" stroke="#141414" stroke-width="1.1"/>
<line x1="45.85" y1="467.3" x2="128.75" y2="467.3" stroke="#141414" stroke-width="1.15"/>
<line x1="62.6" y1="467.3" x2="62.6" y2="469.9" stroke="#141414" stroke-width="1.0"/>
<line x1="78.3" y1="467.3" x2="78.3" y2="469.9" stroke="#141414" stroke-width="1.0"/>
<line x1="93.8" y1="467.3" x2="93.8" y2="469.9" stroke="#141414" stroke-width="1.0"/>
<line x1="109.5" y1="467.3" x2="109.5" y2="469.9" stroke="#141414" stroke-width="1.0"/>
<line x1="125.4" y1="467.3" x2="125.4" y2="469.9" stroke="#141414" stroke-width="1.0"/>
<line x1="43.1" y1="467.3" x2="46.4" y2="467.3" stroke="#141414" stroke-width="1.0"/>
<text x="40.6" y="469.15" font-size="5.6" text-anchor="end">0</text>
<line x1="43.1" y1="459.03" x2="46.4" y2="459.03" stroke="#141414" stroke-width="1.0"/>
<text x="40.6" y="460.88" font-size="5.6" text-anchor="end">10</text>
<line x1="43.1" y1="450.76" x2="46.4" y2="450.76" stroke="#141414" stroke-width="1.0"/>
<text x="40.6" y="452.61" font-size="5.6" text-anchor="end">20</text>
<line x1="43.1" y1="442.49" x2="46.4" y2="442.49" stroke="#141414" stroke-width="1.0"/>
<text x="40.6" y="444.34" font-size="5.6" text-anchor="end">30</text>
<line x1="43.1" y1="434.22" x2="46.4" y2="434.22" stroke="#141414" stroke-width="1.0"/>
<text x="40.6" y="436.07" font-size="5.6" text-anchor="end">40</text>
<line x1="43.1" y1="425.95" x2="46.4" y2="425.95" stroke="#141414" stroke-width="1.0"/>
<text x="40.6" y="427.8" font-size="5.6" text-anchor="end">50</text>
<line x1="43.1" y1="417.68" x2="46.4" y2="417.68" stroke="#141414" stroke-width="1.0"/>
<text x="40.6" y="419.53" font-size="5.6" text-anchor="end">60</text>
<line x1="43.1" y1="409.41" x2="46.4" y2="409.41" stroke="#141414" stroke-width="1.0"/>
<text x="40.6" y="411.26" font-size="5.6" text-anchor="end">70</text>
<line x1="43.1" y1="401.14" x2="46.4" y2="401.14" stroke="#141414" stroke-width="1.0"/>
<text x="40.6" y="402.99" font-size="5.6" text-anchor="end">80</text>
<line x1="43.1" y1="392.87" x2="46.4" y2="392.87" stroke="#141414" stroke-width="1.0"/>
<text x="40.6" y="394.72" font-size="5.6" text-anchor="end">90</text>
<line x1="43.1" y1="384.6" x2="46.4" y2="384.6" stroke="#141414" stroke-width="1.0"/>
<text x="40.6" y="386.45" font-size="5.6" text-anchor="end">100</text>
<text x="53.7" y="478.5" font-size="6.2" text-anchor="middle" textLength="6.9" lengthAdjust="spacingAndGlyphs">Co</text>
<text x="69.65" y="478.5" font-size="6.2" text-anchor="middle" textLength="7.51" lengthAdjust="spacingAndGlyphs">2.5</text>
<text x="85.6" y="478.5" font-size="6.2" text-anchor="middle" textLength="3" lengthAdjust="spacingAndGlyphs">5</text>
<text x="101.6" y="478.5" font-size="6.2" text-anchor="middle" textLength="7.51" lengthAdjust="spacingAndGlyphs">7.5</text>
<text x="117.55" y="478.5" font-size="6.2" text-anchor="middle" textLength="6.01" lengthAdjust="spacingAndGlyphs">10</text>
<path d="M62.6 477.3V481.4H125.4V477.3" fill="none" stroke="#141414" stroke-width="0.95"/>
<text x="92.5" y="489.5" font-size="6.3" text-anchor="middle" textLength="37" lengthAdjust="spacingAndGlyphs">Pimozide [µM]</text>
<text class="t" x="79.3" y="380.3" font-size="6.1" textLength="21.9" lengthAdjust="spacingAndGlyphs">HMC-1.1</text>
<text class="y" transform="translate(24.9,424.9) rotate(-90)" font-size="8.8" text-anchor="middle" textLength="84" lengthAdjust="spacingAndGlyphs">Staining index [% of Co]</text>
<rect x="180.95" y="384.6" width="9.5" height="81.7" fill="#c5c3c8"/>
<line x1="185.7" y1="384.6" x2="185.7" y2="384.1" stroke="#141414" stroke-width="1.0"/>
<line x1="184.9" y1="384.45" x2="186.5" y2="384.45" stroke="#141414" stroke-width="0.7"/>
<rect x="197.25" y="404.12" width="8.5" height="63.18" fill="#4f5669" stroke="#3a4053" stroke-width="0.5"/>
<line x1="201.5" y1="403.87" x2="201.5" y2="393.78" stroke="#141414" stroke-width="1.0"/>
<line x1="200.7" y1="394.13" x2="202.3" y2="394.13" stroke="#141414" stroke-width="0.7"/>
<circle cx="201.5" cy="389.08" r="0.95" fill="#141414"/>
<rect x="213.35" y="410.57" width="8.5" height="56.73" fill="#4f5669" stroke="#3a4053" stroke-width="0.5"/>
<line x1="217.6" y1="410.32" x2="217.6" y2="397.83" stroke="#141414" stroke-width="1.0"/>
<line x1="216.8" y1="398.18" x2="218.4" y2="398.18" stroke="#141414" stroke-width="0.7"/>
<circle cx="217.6" cy="393.13" r="0.95" fill="#141414"/>
<rect x="229.4" y="419.17" width="8.5" height="48.13" fill="#4f5669" stroke="#3a4053" stroke-width="0.5"/>
<line x1="233.65" y1="418.92" x2="233.65" y2="413.38" stroke="#141414" stroke-width="1.0"/>
<line x1="232.85" y1="413.73" x2="234.45" y2="413.73" stroke="#141414" stroke-width="0.7"/>
<circle cx="233.65" cy="408.68" r="0.95" fill="#141414"/>
<rect x="245.35" y="414.54" width="8.5" height="52.76" fill="#4f5669" stroke="#3a4053" stroke-width="0.5"/>
<line x1="249.6" y1="414.29" x2="249.6" y2="409.08" stroke="#141414" stroke-width="1.0"/>
<line x1="248.8" y1="409.43" x2="250.4" y2="409.43" stroke="#141414" stroke-width="0.7"/>
<circle cx="249.6" cy="404.38" r="0.95" fill="#141414"/>
<line x1="178" y1="382.5" x2="178" y2="469.9" stroke="#141414" stroke-width="1.1"/>
<line x1="177.45" y1="467.3" x2="260.4" y2="467.3" stroke="#141414" stroke-width="1.15"/>
<line x1="194.1" y1="467.3" x2="194.1" y2="469.9" stroke="#141414" stroke-width="1.0"/>
<line x1="210" y1="467.3" x2="210" y2="469.9" stroke="#141414" stroke-width="1.0"/>
<line x1="225.7" y1="467.3" x2="225.7" y2="469.9" stroke="#141414" stroke-width="1.0"/>
<line x1="241.4" y1="467.3" x2="241.4" y2="469.9" stroke="#141414" stroke-width="1.0"/>
<line x1="257.3" y1="467.3" x2="257.3" y2="469.9" stroke="#141414" stroke-width="1.0"/>
<line x1="174.7" y1="467.3" x2="178" y2="467.3" stroke="#141414" stroke-width="1.0"/>
<text x="172.2" y="469.15" font-size="5.6" text-anchor="end">0</text>
<line x1="174.7" y1="459.03" x2="178" y2="459.03" stroke="#141414" stroke-width="1.0"/>
<text x="172.2" y="460.88" font-size="5.6" text-anchor="end">10</text>
<line x1="174.7" y1="450.76" x2="178" y2="450.76" stroke="#141414" stroke-width="1.0"/>
<text x="172.2" y="452.61" font-size="5.6" text-anchor="end">20</text>
<line x1="174.7" y1="442.49" x2="178" y2="442.49" stroke="#141414" stroke-width="1.0"/>
<text x="172.2" y="444.34" font-size="5.6" text-anchor="end">30</text>
<line x1="174.7" y1="434.22" x2="178" y2="434.22" stroke="#141414" stroke-width="1.0"/>
<text x="172.2" y="436.07" font-size="5.6" text-anchor="end">40</text>
<line x1="174.7" y1="425.95" x2="178" y2="425.95" stroke="#141414" stroke-width="1.0"/>
<text x="172.2" y="427.8" font-size="5.6" text-anchor="end">50</text>
<line x1="174.7" y1="417.68" x2="178" y2="417.68" stroke="#141414" stroke-width="1.0"/>
<text x="172.2" y="419.53" font-size="5.6" text-anchor="end">60</text>
<line x1="174.7" y1="409.41" x2="178" y2="409.41" stroke="#141414" stroke-width="1.0"/>
<text x="172.2" y="411.26" font-size="5.6" text-anchor="end">70</text>
<line x1="174.7" y1="401.14" x2="178" y2="401.14" stroke="#141414" stroke-width="1.0"/>
<text x="172.2" y="402.99" font-size="5.6" text-anchor="end">80</text>
<line x1="174.7" y1="392.87" x2="178" y2="392.87" stroke="#141414" stroke-width="1.0"/>
<text x="172.2" y="394.72" font-size="5.6" text-anchor="end">90</text>
<line x1="174.7" y1="384.6" x2="178" y2="384.6" stroke="#141414" stroke-width="1.0"/>
<text x="172.2" y="386.45" font-size="5.6" text-anchor="end">100</text>
<text x="185.5" y="478.5" font-size="6.2" text-anchor="middle" textLength="6.9" lengthAdjust="spacingAndGlyphs">Co</text>
<text x="201.5" y="478.5" font-size="6.2" text-anchor="middle" textLength="7.51" lengthAdjust="spacingAndGlyphs">2.5</text>
<text x="217.6" y="478.5" font-size="6.2" text-anchor="middle" textLength="3" lengthAdjust="spacingAndGlyphs">5</text>
<text x="233.65" y="478.5" font-size="6.2" text-anchor="middle" textLength="7.51" lengthAdjust="spacingAndGlyphs">7.5</text>
<text x="249.6" y="478.5" font-size="6.2" text-anchor="middle" textLength="6.01" lengthAdjust="spacingAndGlyphs">10</text>
<path d="M194.1 477.3V481.4H257.3V477.3" fill="none" stroke="#141414" stroke-width="0.95"/>
<text x="224.2" y="489.5" font-size="6.3" text-anchor="middle" textLength="37" lengthAdjust="spacingAndGlyphs">Pimozide [µM]</text>
<text class="t" x="211.6" y="380.3" font-size="6.1" textLength="21.9" lengthAdjust="spacingAndGlyphs">HMC-1.2</text>
<text class="y" transform="translate(156.5,424.9) rotate(-90)" font-size="8.8" text-anchor="middle" textLength="84" lengthAdjust="spacingAndGlyphs">Staining index [% of Co]</text>
<rect x="304.65" y="384.6" width="9.5" height="81.7" fill="#c5c3c8"/>
<line x1="309.4" y1="384.6" x2="309.4" y2="384.1" stroke="#141414" stroke-width="1.0"/>
<line x1="308.6" y1="384.45" x2="310.2" y2="384.45" stroke="#141414" stroke-width="0.7"/>
<rect x="321.05" y="407.51" width="8.5" height="59.79" fill="#4f5669" stroke="#3a4053" stroke-width="0.5"/>
<line x1="325.3" y1="407.26" x2="325.3" y2="404.28" stroke="#141414" stroke-width="1.0"/>
<line x1="324.5" y1="404.63" x2="326.1" y2="404.63" stroke="#141414" stroke-width="0.7"/>
<circle cx="325.3" cy="399.58" r="0.95" fill="#141414"/>
<rect x="337.15" y="419.58" width="8.5" height="47.72" fill="#4f5669" stroke="#3a4053" stroke-width="0.5"/>
<line x1="341.4" y1="419.33" x2="341.4" y2="411.97" stroke="#141414" stroke-width="1.0"/>
<line x1="340.6" y1="412.32" x2="342.2" y2="412.32" stroke="#141414" stroke-width="0.7"/>
<circle cx="341.4" cy="407.27" r="0.95" fill="#141414"/>
<rect x="353.2" y="423.88" width="8.5" height="43.42" fill="#4f5669" stroke="#3a4053" stroke-width="0.5"/>
<line x1="357.45" y1="423.63" x2="357.45" y2="416.36" stroke="#141414" stroke-width="1.0"/>
<line x1="356.65" y1="416.71" x2="358.25" y2="416.71" stroke="#141414" stroke-width="0.7"/>
<circle cx="357.45" cy="411.66" r="0.95" fill="#141414"/>
<rect x="369.15" y="421.49" width="8.5" height="45.81" fill="#4f5669" stroke="#3a4053" stroke-width="0.5"/>
<line x1="373.4" y1="421.24" x2="373.4" y2="413.21" stroke="#141414" stroke-width="1.0"/>
<line x1="372.6" y1="413.56" x2="374.2" y2="413.56" stroke="#141414" stroke-width="0.7"/>
<circle cx="373.4" cy="408.51" r="0.95" fill="#141414"/>
<line x1="301.4" y1="382.5" x2="301.4" y2="469.9" stroke="#141414" stroke-width="1.1"/>
<line x1="300.85" y1="467.3" x2="383.75" y2="467.3" stroke="#141414" stroke-width="1.15"/>
<line x1="317.4" y1="467.3" x2="317.4" y2="469.9" stroke="#141414" stroke-width="1.0"/>
<line x1="333.2" y1="467.3" x2="333.2" y2="469.9" stroke="#141414" stroke-width="1.0"/>
<line x1="349.2" y1="467.3" x2="349.2" y2="469.9" stroke="#141414" stroke-width="1.0"/>
<line x1="365.1" y1="467.3" x2="365.1" y2="469.9" stroke="#141414" stroke-width="1.0"/>
<line x1="380.9" y1="467.3" x2="380.9" y2="469.9" stroke="#141414" stroke-width="1.0"/>
<line x1="298.1" y1="467.3" x2="301.4" y2="467.3" stroke="#141414" stroke-width="1.0"/>
<text x="295.6" y="469.15" font-size="5.6" text-anchor="end">0</text>
<line x1="298.1" y1="459.03" x2="301.4" y2="459.03" stroke="#141414" stroke-width="1.0"/>
<text x="295.6" y="460.88" font-size="5.6" text-anchor="end">10</text>
<line x1="298.1" y1="450.76" x2="301.4" y2="450.76" stroke="#141414" stroke-width="1.0"/>
<text x="295.6" y="452.61" font-size="5.6" text-anchor="end">20</text>
<line x1="298.1" y1="442.49" x2="301.4" y2="442.49" stroke="#141414" stroke-width="1.0"/>
<text x="295.6" y="444.34" font-size="5.6" text-anchor="end">30</text>
<line x1="298.1" y1="434.22" x2="301.4" y2="434.22" stroke="#141414" stroke-width="1.0"/>
<text x="295.6" y="436.07" font-size="5.6" text-anchor="end">40</text>
<line x1="298.1" y1="425.95" x2="301.4" y2="425.95" stroke="#141414" stroke-width="1.0"/>
<text x="295.6" y="427.8" font-size="5.6" text-anchor="end">50</text>
<line x1="298.1" y1="417.68" x2="301.4" y2="417.68" stroke="#141414" stroke-width="1.0"/>
<text x="295.6" y="419.53" font-size="5.6" text-anchor="end">60</text>
<line x1="298.1" y1="409.41" x2="301.4" y2="409.41" stroke="#141414" stroke-width="1.0"/>
<text x="295.6" y="411.26" font-size="5.6" text-anchor="end">70</text>
<line x1="298.1" y1="401.14" x2="301.4" y2="401.14" stroke="#141414" stroke-width="1.0"/>
<text x="295.6" y="402.99" font-size="5.6" text-anchor="end">80</text>
<line x1="298.1" y1="392.87" x2="301.4" y2="392.87" stroke="#141414" stroke-width="1.0"/>
<text x="295.6" y="394.72" font-size="5.6" text-anchor="end">90</text>
<line x1="298.1" y1="384.6" x2="301.4" y2="384.6" stroke="#141414" stroke-width="1.0"/>
<text x="295.6" y="386.45" font-size="5.6" text-anchor="end">100</text>
<text x="309.2" y="478.5" font-size="6.2" text-anchor="middle" textLength="6.9" lengthAdjust="spacingAndGlyphs">Co</text>
<text x="325.3" y="478.5" font-size="6.2" text-anchor="middle" textLength="7.51" lengthAdjust="spacingAndGlyphs">2.5</text>
<text x="341.4" y="478.5" font-size="6.2" text-anchor="middle" textLength="3" lengthAdjust="spacingAndGlyphs">5</text>
<text x="357.45" y="478.5" font-size="6.2" text-anchor="middle" textLength="7.51" lengthAdjust="spacingAndGlyphs">7.5</text>
<text x="373.4" y="478.5" font-size="6.2" text-anchor="middle" textLength="6.01" lengthAdjust="spacingAndGlyphs">10</text>
<path d="M317.4 477.3V481.4H380.9V477.3" fill="none" stroke="#141414" stroke-width="0.95"/>
<text x="347.65" y="489.5" font-size="6.3" text-anchor="middle" textLength="37" lengthAdjust="spacingAndGlyphs">Pimozide [µM]</text>
<text class="t" x="333" y="380.3" font-size="6.1" textLength="14.5" lengthAdjust="spacingAndGlyphs">ROSA</text>
<text class="t" x="347.9" y="377.8" font-size="3.3" textLength="11.6" lengthAdjust="spacingAndGlyphs">KIT WT</text>
<text class="y" transform="translate(279.9,424.9) rotate(-90)" font-size="8.8" text-anchor="middle" textLength="84" lengthAdjust="spacingAndGlyphs">Staining index [% of Co]</text>
<rect x="428.05" y="388.7" width="9.5" height="77.6" fill="#c5c3c8"/>
<line x1="432.8" y1="388.7" x2="432.8" y2="388.23" stroke="#141414" stroke-width="1.0"/>
<line x1="432" y1="388.58" x2="433.6" y2="388.58" stroke="#141414" stroke-width="0.7"/>
<rect x="444.35" y="398.38" width="8.5" height="68.92" fill="#4f5669" stroke="#3a4053" stroke-width="0.5"/>
<line x1="448.6" y1="398.13" x2="448.6" y2="384.3" stroke="#141414" stroke-width="1.0"/>
<line x1="447.8" y1="384.65" x2="449.4" y2="384.65" stroke="#141414" stroke-width="0.7"/>
<rect x="460.25" y="403.57" width="8.5" height="63.73" fill="#4f5669" stroke="#3a4053" stroke-width="0.5"/>
<line x1="464.5" y1="403.32" x2="464.5" y2="402.53" stroke="#141414" stroke-width="1.0"/>
<line x1="463.7" y1="402.88" x2="465.3" y2="402.88" stroke="#141414" stroke-width="0.7"/>
<circle cx="464.5" cy="397.83" r="0.95" fill="#141414"/>
<rect x="476.25" y="407.58" width="8.5" height="59.72" fill="#4f5669" stroke="#3a4053" stroke-width="0.5"/>
<line x1="480.5" y1="407.33" x2="480.5" y2="404.18" stroke="#141414" stroke-width="1.0"/>
<line x1="479.7" y1="404.53" x2="481.3" y2="404.53" stroke="#141414" stroke-width="0.7"/>
<circle cx="480.5" cy="399.48" r="0.95" fill="#141414"/>
<rect x="492.45" y="403.57" width="8.5" height="63.73" fill="#4f5669" stroke="#3a4053" stroke-width="0.5"/>
<line x1="496.7" y1="403.32" x2="496.7" y2="399.63" stroke="#141414" stroke-width="1.0"/>
<line x1="495.9" y1="399.98" x2="497.5" y2="399.98" stroke="#141414" stroke-width="0.7"/>
<circle cx="496.7" cy="394.93" r="0.95" fill="#141414"/>
<line x1="425.15" y1="382.7" x2="425.15" y2="469.9" stroke="#141414" stroke-width="1.1"/>
<line x1="424.6" y1="467.3" x2="507.3" y2="467.3" stroke="#141414" stroke-width="1.15"/>
<line x1="441" y1="467.3" x2="441" y2="469.9" stroke="#141414" stroke-width="1.0"/>
<line x1="456.9" y1="467.3" x2="456.9" y2="469.9" stroke="#141414" stroke-width="1.0"/>
<line x1="472.7" y1="467.3" x2="472.7" y2="469.9" stroke="#141414" stroke-width="1.0"/>
<line x1="488.6" y1="467.3" x2="488.6" y2="469.9" stroke="#141414" stroke-width="1.0"/>
<line x1="504.4" y1="467.3" x2="504.4" y2="469.9" stroke="#141414" stroke-width="1.0"/>
<line x1="421.85" y1="467.3" x2="425.15" y2="467.3" stroke="#141414" stroke-width="1.0"/>
<text x="419.35" y="469.15" font-size="5.6" text-anchor="end">0</text>
<line x1="421.85" y1="459.44" x2="425.15" y2="459.44" stroke="#141414" stroke-width="1.0"/>
<text x="419.35" y="461.29" font-size="5.6" text-anchor="end">10</text>
<line x1="421.85" y1="451.58" x2="425.15" y2="451.58" stroke="#141414" stroke-width="1.0"/>
<text x="419.35" y="453.43" font-size="5.6" text-anchor="end">20</text>
<line x1="421.85" y1="443.72" x2="425.15" y2="443.72" stroke="#141414" stroke-width="1.0"/>
<text x="419.35" y="445.57" font-size="5.6" text-anchor="end">30</text>
<line x1="421.85" y1="435.86" x2="425.15" y2="435.86" stroke="#141414" stroke-width="1.0"/>
<text x="419.35" y="437.71" font-size="5.6" text-anchor="end">40</text>
<line x1="421.85" y1="428" x2="425.15" y2="428" stroke="#141414" stroke-width="1.0"/>
<text x="419.35" y="429.85" font-size="5.6" text-anchor="end">50</text>
<line x1="421.85" y1="420.14" x2="425.15" y2="420.14" stroke="#141414" stroke-width="1.0"/>
<text x="419.35" y="421.99" font-size="5.6" text-anchor="end">60</text>
<line x1="421.85" y1="412.28" x2="425.15" y2="412.28" stroke="#141414" stroke-width="1.0"/>
<text x="419.35" y="414.13" font-size="5.6" text-anchor="end">70</text>
<line x1="421.85" y1="404.42" x2="425.15" y2="404.42" stroke="#141414" stroke-width="1.0"/>
<text x="419.35" y="406.27" font-size="5.6" text-anchor="end">80</text>
<line x1="421.85" y1="396.56" x2="425.15" y2="396.56" stroke="#141414" stroke-width="1.0"/>
<text x="419.35" y="398.41" font-size="5.6" text-anchor="end">90</text>
<line x1="421.85" y1="388.7" x2="425.15" y2="388.7" stroke="#141414" stroke-width="1.0"/>
<text x="419.35" y="390.55" font-size="5.6" text-anchor="end">100</text>
<text x="432.6" y="478.5" font-size="6.2" text-anchor="middle" textLength="6.9" lengthAdjust="spacingAndGlyphs">Co</text>
<text x="448.6" y="478.5" font-size="6.2" text-anchor="middle" textLength="7.51" lengthAdjust="spacingAndGlyphs">2.5</text>
<text x="464.5" y="478.5" font-size="6.2" text-anchor="middle" textLength="3" lengthAdjust="spacingAndGlyphs">5</text>
<text x="480.5" y="478.5" font-size="6.2" text-anchor="middle" textLength="7.51" lengthAdjust="spacingAndGlyphs">7.5</text>
<text x="496.7" y="478.5" font-size="6.2" text-anchor="middle" textLength="6.01" lengthAdjust="spacingAndGlyphs">10</text>
<path d="M441 477.3V481.4H504.4V477.3" fill="none" stroke="#141414" stroke-width="0.95"/>
<text x="471.2" y="489.5" font-size="6.3" text-anchor="middle" textLength="37" lengthAdjust="spacingAndGlyphs">Pimozide [µM]</text>
<text class="t" x="453.6" y="380.3" font-size="6.1" textLength="14.2" lengthAdjust="spacingAndGlyphs">ROSA</text>
<text class="t" x="468.2" y="377.8" font-size="3.3" textLength="17.6" lengthAdjust="spacingAndGlyphs">KIT D816V</text>
<text class="y" transform="translate(403.65,425) rotate(-90)" font-size="8.8" text-anchor="middle" textLength="84" lengthAdjust="spacingAndGlyphs">Staining index [% of Co]</text>
<rect x="49.4" y="510" width="9.5" height="82.2" fill="#c5c3c8"/>
<line x1="54.15" y1="510" x2="54.15" y2="509.5" stroke="#141414" stroke-width="1.0"/>
<line x1="53.35" y1="509.85" x2="54.95" y2="509.85" stroke="#141414" stroke-width="0.7"/>
<rect x="65.65" y="531.3" width="8.5" height="61.9" fill="#4f5669" stroke="#3a4053" stroke-width="0.5"/>
<line x1="69.9" y1="531.05" x2="69.9" y2="522.81" stroke="#141414" stroke-width="1.0"/>
<line x1="69.1" y1="523.16" x2="70.7" y2="523.16" stroke="#141414" stroke-width="0.7"/>
<circle cx="69.9" cy="518.11" r="0.95" fill="#141414"/>
<rect x="81.65" y="538.21" width="8.5" height="54.99" fill="#4f5669" stroke="#3a4053" stroke-width="0.5"/>
<line x1="85.9" y1="537.96" x2="85.9" y2="531.05" stroke="#141414" stroke-width="1.0"/>
<line x1="85.1" y1="531.4" x2="86.7" y2="531.4" stroke="#141414" stroke-width="0.7"/>
<circle cx="85.9" cy="526.35" r="0.95" fill="#141414"/>
<rect x="97.65" y="546.36" width="8.5" height="46.84" fill="#4f5669" stroke="#3a4053" stroke-width="0.5"/>
<line x1="101.9" y1="546.11" x2="101.9" y2="540.2" stroke="#141414" stroke-width="1.0"/>
<line x1="101.1" y1="540.55" x2="102.7" y2="540.55" stroke="#141414" stroke-width="0.7"/>
<circle cx="101.9" cy="535.5" r="0.95" fill="#141414"/>
<rect x="113.7" y="555.59" width="8.5" height="37.61" fill="#4f5669" stroke="#3a4053" stroke-width="0.5"/>
<line x1="117.95" y1="555.34" x2="117.95" y2="550.44" stroke="#141414" stroke-width="1.0"/>
<line x1="117.15" y1="550.79" x2="118.75" y2="550.79" stroke="#141414" stroke-width="0.7"/>
<circle cx="117.95" cy="545.74" r="0.95" fill="#141414"/>
<line x1="46.4" y1="504.2" x2="46.4" y2="595.8" stroke="#141414" stroke-width="1.1"/>
<line x1="45.85" y1="593.2" x2="128.75" y2="593.2" stroke="#141414" stroke-width="1.15"/>
<line x1="62.6" y1="593.2" x2="62.6" y2="595.8" stroke="#141414" stroke-width="1.0"/>
<line x1="78.3" y1="593.2" x2="78.3" y2="595.8" stroke="#141414" stroke-width="1.0"/>
<line x1="93.8" y1="593.2" x2="93.8" y2="595.8" stroke="#141414" stroke-width="1.0"/>
<line x1="109.5" y1="593.2" x2="109.5" y2="595.8" stroke="#141414" stroke-width="1.0"/>
<line x1="125.4" y1="593.2" x2="125.4" y2="595.8" stroke="#141414" stroke-width="1.0"/>
<line x1="43.1" y1="593.2" x2="46.4" y2="593.2" stroke="#141414" stroke-width="1.0"/>
<text x="40.6" y="595.05" font-size="5.6" text-anchor="end">0</text>
<line x1="43.1" y1="584.88" x2="46.4" y2="584.88" stroke="#141414" stroke-width="1.0"/>
<text x="40.6" y="586.73" font-size="5.6" text-anchor="end">10</text>
<line x1="43.1" y1="576.56" x2="46.4" y2="576.56" stroke="#141414" stroke-width="1.0"/>
<text x="40.6" y="578.41" font-size="5.6" text-anchor="end">20</text>
<line x1="43.1" y1="568.24" x2="46.4" y2="568.24" stroke="#141414" stroke-width="1.0"/>
<text x="40.6" y="570.09" font-size="5.6" text-anchor="end">30</text>
<line x1="43.1" y1="559.92" x2="46.4" y2="559.92" stroke="#141414" stroke-width="1.0"/>
<text x="40.6" y="561.77" font-size="5.6" text-anchor="end">40</text>
<line x1="43.1" y1="551.6" x2="46.4" y2="551.6" stroke="#141414" stroke-width="1.0"/>
<text x="40.6" y="553.45" font-size="5.6" text-anchor="end">50</text>
<line x1="43.1" y1="543.28" x2="46.4" y2="543.28" stroke="#141414" stroke-width="1.0"/>
<text x="40.6" y="545.13" font-size="5.6" text-anchor="end">60</text>
<line x1="43.1" y1="534.96" x2="46.4" y2="534.96" stroke="#141414" stroke-width="1.0"/>
<text x="40.6" y="536.81" font-size="5.6" text-anchor="end">70</text>
<line x1="43.1" y1="526.64" x2="46.4" y2="526.64" stroke="#141414" stroke-width="1.0"/>
<text x="40.6" y="528.49" font-size="5.6" text-anchor="end">80</text>
<line x1="43.1" y1="518.32" x2="46.4" y2="518.32" stroke="#141414" stroke-width="1.0"/>
<text x="40.6" y="520.17" font-size="5.6" text-anchor="end">90</text>
<line x1="43.1" y1="510" x2="46.4" y2="510" stroke="#141414" stroke-width="1.0"/>
<text x="40.6" y="511.85" font-size="5.6" text-anchor="end">100</text>
<text x="53.95" y="604.4" font-size="6.2" text-anchor="middle" textLength="6.9" lengthAdjust="spacingAndGlyphs">Co</text>
<text x="69.9" y="604.4" font-size="6.2" text-anchor="middle" textLength="7.51" lengthAdjust="spacingAndGlyphs">2.5</text>
<text x="85.9" y="604.4" font-size="6.2" text-anchor="middle" textLength="3" lengthAdjust="spacingAndGlyphs">5</text>
<text x="101.9" y="604.4" font-size="6.2" text-anchor="middle" textLength="7.51" lengthAdjust="spacingAndGlyphs">7.5</text>
<text x="117.95" y="604.4" font-size="6.2" text-anchor="middle" textLength="6.01" lengthAdjust="spacingAndGlyphs">10</text>
<path d="M62.6 603.2V607.3H125.4V603.2" fill="none" stroke="#141414" stroke-width="0.95"/>
<text x="92.5" y="616.5" font-size="6.3" text-anchor="middle" textLength="37" lengthAdjust="spacingAndGlyphs">Pimozide [µM]</text>
<text class="t" x="78.2" y="506" font-size="6.1" textLength="24.2" lengthAdjust="spacingAndGlyphs"><tspan font-style="italic">MCPV</tspan>-1.1</text>
<text class="y" transform="translate(24.9,548.7) rotate(-90)" font-size="8.8" text-anchor="middle" textLength="84" lengthAdjust="spacingAndGlyphs">Staining index [% of Co]</text>
<rect x="180.95" y="510.58" width="9.5" height="81.62" fill="#c5c3c8"/>
<line x1="185.7" y1="510.58" x2="185.7" y2="509.83" stroke="#141414" stroke-width="1.0"/>
<line x1="184.9" y1="510.18" x2="186.5" y2="510.18" stroke="#141414" stroke-width="0.7"/>
<rect x="197.25" y="525.48" width="8.5" height="67.72" fill="#4f5669" stroke="#3a4053" stroke-width="0.5"/>
<line x1="201.5" y1="525.23" x2="201.5" y2="517.16" stroke="#141414" stroke-width="1.0"/>
<line x1="200.7" y1="517.51" x2="202.3" y2="517.51" stroke="#141414" stroke-width="0.7"/>
<circle cx="201.5" cy="512.46" r="0.95" fill="#141414"/>
<rect x="213.35" y="532.63" width="8.5" height="60.57" fill="#4f5669" stroke="#3a4053" stroke-width="0.5"/>
<line x1="217.6" y1="532.38" x2="217.6" y2="523.23" stroke="#141414" stroke-width="1.0"/>
<line x1="216.8" y1="523.58" x2="218.4" y2="523.58" stroke="#141414" stroke-width="0.7"/>
<circle cx="217.6" cy="518.53" r="0.95" fill="#141414"/>
<rect x="229.4" y="538.21" width="8.5" height="54.99" fill="#4f5669" stroke="#3a4053" stroke-width="0.5"/>
<line x1="233.65" y1="537.96" x2="233.65" y2="534.88" stroke="#141414" stroke-width="1.0"/>
<line x1="232.85" y1="535.23" x2="234.45" y2="535.23" stroke="#141414" stroke-width="0.7"/>
<circle cx="233.65" cy="530.18" r="0.95" fill="#141414"/>
<rect x="245.35" y="542.53" width="8.5" height="50.67" fill="#4f5669" stroke="#3a4053" stroke-width="0.5"/>
<line x1="249.6" y1="542.28" x2="249.6" y2="536.54" stroke="#141414" stroke-width="1.0"/>
<line x1="248.8" y1="536.89" x2="250.4" y2="536.89" stroke="#141414" stroke-width="0.7"/>
<circle cx="249.6" cy="531.84" r="0.95" fill="#141414"/>
<line x1="178" y1="504.2" x2="178" y2="595.8" stroke="#141414" stroke-width="1.1"/>
<line x1="177.45" y1="593.2" x2="260.4" y2="593.2" stroke="#141414" stroke-width="1.15"/>
<line x1="194.1" y1="593.2" x2="194.1" y2="595.8" stroke="#141414" stroke-width="1.0"/>
<line x1="210" y1="593.2" x2="210" y2="595.8" stroke="#141414" stroke-width="1.0"/>
<line x1="225.7" y1="593.2" x2="225.7" y2="595.8" stroke="#141414" stroke-width="1.0"/>
<line x1="241.4" y1="593.2" x2="241.4" y2="595.8" stroke="#141414" stroke-width="1.0"/>
<line x1="257.3" y1="593.2" x2="257.3" y2="595.8" stroke="#141414" stroke-width="1.0"/>
<line x1="174.7" y1="593.2" x2="178" y2="593.2" stroke="#141414" stroke-width="1.0"/>
<text x="172.2" y="595.05" font-size="5.6" text-anchor="end">0</text>
<line x1="174.7" y1="584.88" x2="178" y2="584.88" stroke="#141414" stroke-width="1.0"/>
<text x="172.2" y="586.73" font-size="5.6" text-anchor="end">10</text>
<line x1="174.7" y1="576.56" x2="178" y2="576.56" stroke="#141414" stroke-width="1.0"/>
<text x="172.2" y="578.41" font-size="5.6" text-anchor="end">20</text>
<line x1="174.7" y1="568.24" x2="178" y2="568.24" stroke="#141414" stroke-width="1.0"/>
<text x="172.2" y="570.09" font-size="5.6" text-anchor="end">30</text>
<line x1="174.7" y1="559.92" x2="178" y2="559.92" stroke="#141414" stroke-width="1.0"/>
<text x="172.2" y="561.77" font-size="5.6" text-anchor="end">40</text>
<line x1="174.7" y1="551.6" x2="178" y2="551.6" stroke="#141414" stroke-width="1.0"/>
<text x="172.2" y="553.45" font-size="5.6" text-anchor="end">50</text>
<line x1="174.7" y1="543.28" x2="178" y2="543.28" stroke="#141414" stroke-width="1.0"/>
<text x="172.2" y="545.13" font-size="5.6" text-anchor="end">60</text>
<line x1="174.7" y1="534.96" x2="178" y2="534.96" stroke="#141414" stroke-width="1.0"/>
<text x="172.2" y="536.81" font-size="5.6" text-anchor="end">70</text>
<line x1="174.7" y1="526.64" x2="178" y2="526.64" stroke="#141414" stroke-width="1.0"/>
<text x="172.2" y="528.49" font-size="5.6" text-anchor="end">80</text>
<line x1="174.7" y1="518.32" x2="178" y2="518.32" stroke="#141414" stroke-width="1.0"/>
<text x="172.2" y="520.17" font-size="5.6" text-anchor="end">90</text>
<line x1="174.7" y1="510" x2="178" y2="510" stroke="#141414" stroke-width="1.0"/>
<text x="172.2" y="511.85" font-size="5.6" text-anchor="end">100</text>
<text x="185.5" y="604.4" font-size="6.2" text-anchor="middle" textLength="6.9" lengthAdjust="spacingAndGlyphs">Co</text>
<text x="201.5" y="604.4" font-size="6.2" text-anchor="middle" textLength="7.51" lengthAdjust="spacingAndGlyphs">2.5</text>
<text x="217.6" y="604.4" font-size="6.2" text-anchor="middle" textLength="3" lengthAdjust="spacingAndGlyphs">5</text>
<text x="233.65" y="604.4" font-size="6.2" text-anchor="middle" textLength="7.51" lengthAdjust="spacingAndGlyphs">7.5</text>
<text x="249.6" y="604.4" font-size="6.2" text-anchor="middle" textLength="6.01" lengthAdjust="spacingAndGlyphs">10</text>
<path d="M194.1 603.2V607.3H257.3V603.2" fill="none" stroke="#141414" stroke-width="0.95"/>
<text x="224.2" y="616.5" font-size="6.3" text-anchor="middle" textLength="37" lengthAdjust="spacingAndGlyphs">Pimozide [µM]</text>
<text class="t" x="210.1" y="506.2" font-size="6.1" textLength="24.6" lengthAdjust="spacingAndGlyphs"><tspan font-style="italic">MCPV</tspan>-1.2</text>
<text class="y" transform="translate(156.5,548.7) rotate(-90)" font-size="8.8" text-anchor="middle" textLength="84" lengthAdjust="spacingAndGlyphs">Staining index [% of Co]</text>
<rect x="304.65" y="510.42" width="9.5" height="81.78" fill="#c5c3c8"/>
<line x1="309.4" y1="510.42" x2="309.4" y2="509.67" stroke="#141414" stroke-width="1.0"/>
<line x1="308.6" y1="510.02" x2="310.2" y2="510.02" stroke="#141414" stroke-width="0.7"/>
<rect x="321.05" y="530.38" width="8.5" height="62.82" fill="#4f5669" stroke="#3a4053" stroke-width="0.5"/>
<line x1="325.3" y1="530.13" x2="325.3" y2="521.81" stroke="#141414" stroke-width="1.0"/>
<line x1="324.5" y1="522.16" x2="326.1" y2="522.16" stroke="#141414" stroke-width="0.7"/>
<circle cx="325.3" cy="517.11" r="0.95" fill="#141414"/>
<rect x="337.15" y="532.13" width="8.5" height="61.07" fill="#4f5669" stroke="#3a4053" stroke-width="0.5"/>
<line x1="341.4" y1="531.88" x2="341.4" y2="529.22" stroke="#141414" stroke-width="1.0"/>
<line x1="340.6" y1="529.57" x2="342.2" y2="529.57" stroke="#141414" stroke-width="0.7"/>
<circle cx="341.4" cy="524.52" r="0.95" fill="#141414"/>
<rect x="353.2" y="538.21" width="8.5" height="54.99" fill="#4f5669" stroke="#3a4053" stroke-width="0.5"/>
<line x1="357.45" y1="537.96" x2="357.45" y2="533.05" stroke="#141414" stroke-width="1.0"/>
<line x1="356.65" y1="533.4" x2="358.25" y2="533.4" stroke="#141414" stroke-width="0.7"/>
<circle cx="357.45" cy="528.35" r="0.95" fill="#141414"/>
<rect x="369.15" y="547.44" width="8.5" height="45.76" fill="#4f5669" stroke="#3a4053" stroke-width="0.5"/>
<line x1="373.4" y1="547.19" x2="373.4" y2="545.28" stroke="#141414" stroke-width="1.0"/>
<line x1="372.6" y1="545.63" x2="374.2" y2="545.63" stroke="#141414" stroke-width="0.7"/>
<circle cx="373.4" cy="540.58" r="0.95" fill="#141414"/>
<line x1="301.4" y1="504.2" x2="301.4" y2="595.8" stroke="#141414" stroke-width="1.1"/>
<line x1="300.85" y1="593.2" x2="383.75" y2="593.2" stroke="#141414" stroke-width="1.15"/>
<line x1="317.4" y1="593.2" x2="317.4" y2="595.8" stroke="#141414" stroke-width="1.0"/>
<line x1="333.2" y1="593.2" x2="333.2" y2="595.8" stroke="#141414" stroke-width="1.0"/>
<line x1="349.2" y1="593.2" x2="349.2" y2="595.8" stroke="#141414" stroke-width="1.0"/>
<line x1="365.1" y1="593.2" x2="365.1" y2="595.8" stroke="#141414" stroke-width="1.0"/>
<line x1="380.9" y1="593.2" x2="380.9" y2="595.8" stroke="#141414" stroke-width="1.0"/>
<line x1="298.1" y1="593.2" x2="301.4" y2="593.2" stroke="#141414" stroke-width="1.0"/>
<text x="295.6" y="595.05" font-size="5.6" text-anchor="end">0</text>
<line x1="298.1" y1="584.88" x2="301.4" y2="584.88" stroke="#141414" stroke-width="1.0"/>
<text x="295.6" y="586.73" font-size="5.6" text-anchor="end">10</text>
<line x1="298.1" y1="576.56" x2="301.4" y2="576.56" stroke="#141414" stroke-width="1.0"/>
<text x="295.6" y="578.41" font-size="5.6" text-anchor="end">20</text>
<line x1="298.1" y1="568.24" x2="301.4" y2="568.24" stroke="#141414" stroke-width="1.0"/>
<text x="295.6" y="570.09" font-size="5.6" text-anchor="end">30</text>
<line x1="298.1" y1="559.92" x2="301.4" y2="559.92" stroke="#141414" stroke-width="1.0"/>
<text x="295.6" y="561.77" font-size="5.6" text-anchor="end">40</text>
<line x1="298.1" y1="551.6" x2="301.4" y2="551.6" stroke="#141414" stroke-width="1.0"/>
<text x="295.6" y="553.45" font-size="5.6" text-anchor="end">50</text>
<line x1="298.1" y1="543.28" x2="301.4" y2="543.28" stroke="#141414" stroke-width="1.0"/>
<text x="295.6" y="545.13" font-size="5.6" text-anchor="end">60</text>
<line x1="298.1" y1="534.96" x2="301.4" y2="534.96" stroke="#141414" stroke-width="1.0"/>
<text x="295.6" y="536.81" font-size="5.6" text-anchor="end">70</text>
<line x1="298.1" y1="526.64" x2="301.4" y2="526.64" stroke="#141414" stroke-width="1.0"/>
<text x="295.6" y="528.49" font-size="5.6" text-anchor="end">80</text>
<line x1="298.1" y1="518.32" x2="301.4" y2="518.32" stroke="#141414" stroke-width="1.0"/>
<text x="295.6" y="520.17" font-size="5.6" text-anchor="end">90</text>
<line x1="298.1" y1="510" x2="301.4" y2="510" stroke="#141414" stroke-width="1.0"/>
<text x="295.6" y="511.85" font-size="5.6" text-anchor="end">100</text>
<text x="309.2" y="604.4" font-size="6.2" text-anchor="middle" textLength="6.9" lengthAdjust="spacingAndGlyphs">Co</text>
<text x="325.3" y="604.4" font-size="6.2" text-anchor="middle" textLength="7.51" lengthAdjust="spacingAndGlyphs">2.5</text>
<text x="341.4" y="604.4" font-size="6.2" text-anchor="middle" textLength="3" lengthAdjust="spacingAndGlyphs">5</text>
<text x="357.45" y="604.4" font-size="6.2" text-anchor="middle" textLength="7.51" lengthAdjust="spacingAndGlyphs">7.5</text>
<text x="373.4" y="604.4" font-size="6.2" text-anchor="middle" textLength="6.01" lengthAdjust="spacingAndGlyphs">10</text>
<path d="M317.4 603.2V607.3H380.9V603.2" fill="none" stroke="#141414" stroke-width="0.95"/>
<text x="347.65" y="616.5" font-size="6.3" text-anchor="middle" textLength="37" lengthAdjust="spacingAndGlyphs">Pimozide [µM]</text>
<text class="t" x="333.6" y="506.2" font-size="6.1" textLength="24.7" lengthAdjust="spacingAndGlyphs"><tspan font-style="italic">MCPV</tspan>-1.3</text>
<text class="y" transform="translate(279.9,548.7) rotate(-90)" font-size="8.8" text-anchor="middle" textLength="84" lengthAdjust="spacingAndGlyphs">Staining index [% of Co]</text>
<rect x="428.05" y="510.42" width="9.5" height="81.78" fill="#c5c3c8"/>
<line x1="432.8" y1="510.42" x2="432.8" y2="509.67" stroke="#141414" stroke-width="1.0"/>
<line x1="432" y1="510.02" x2="433.6" y2="510.02" stroke="#141414" stroke-width="0.7"/>
<rect x="444.35" y="536.54" width="8.5" height="56.66" fill="#4f5669" stroke="#3a4053" stroke-width="0.5"/>
<line x1="448.6" y1="536.29" x2="448.6" y2="525.81" stroke="#141414" stroke-width="1.0"/>
<line x1="447.8" y1="526.16" x2="449.4" y2="526.16" stroke="#141414" stroke-width="0.7"/>
<circle cx="448.6" cy="521.11" r="0.95" fill="#141414"/>
<rect x="460.25" y="532.13" width="8.5" height="61.07" fill="#4f5669" stroke="#3a4053" stroke-width="0.5"/>
<line x1="464.5" y1="531.88" x2="464.5" y2="527.06" stroke="#141414" stroke-width="1.0"/>
<line x1="463.7" y1="527.41" x2="465.3" y2="527.41" stroke="#141414" stroke-width="0.7"/>
<circle cx="464.5" cy="522.36" r="0.95" fill="#141414"/>
<rect x="476.25" y="544.2" width="8.5" height="49" fill="#4f5669" stroke="#3a4053" stroke-width="0.5"/>
<line x1="480.5" y1="543.95" x2="480.5" y2="535.38" stroke="#141414" stroke-width="1.0"/>
<line x1="479.7" y1="535.73" x2="481.3" y2="535.73" stroke="#141414" stroke-width="0.7"/>
<circle cx="480.5" cy="530.68" r="0.95" fill="#141414"/>
<rect x="492.45" y="549.44" width="8.5" height="43.76" fill="#4f5669" stroke="#3a4053" stroke-width="0.5"/>
<line x1="496.7" y1="549.19" x2="496.7" y2="545.36" stroke="#141414" stroke-width="1.0"/>
<line x1="495.9" y1="545.71" x2="497.5" y2="545.71" stroke="#141414" stroke-width="0.7"/>
<circle cx="496.7" cy="540.66" r="0.95" fill="#141414"/>
<line x1="425.15" y1="504.2" x2="425.15" y2="595.8" stroke="#141414" stroke-width="1.1"/>
<line x1="424.6" y1="593.2" x2="507.3" y2="593.2" stroke="#141414" stroke-width="1.15"/>
<line x1="441" y1="593.2" x2="441" y2="595.8" stroke="#141414" stroke-width="1.0"/>
<line x1="456.9" y1="593.2" x2="456.9" y2="595.8" stroke="#141414" stroke-width="1.0"/>
<line x1="472.7" y1="593.2" x2="472.7" y2="595.8" stroke="#141414" stroke-width="1.0"/>
<line x1="488.6" y1="593.2" x2="488.6" y2="595.8" stroke="#141414" stroke-width="1.0"/>
<line x1="504.4" y1="593.2" x2="504.4" y2="595.8" stroke="#141414" stroke-width="1.0"/>
<line x1="421.85" y1="593.2" x2="425.15" y2="593.2" stroke="#141414" stroke-width="1.0"/>
<text x="419.35" y="595.05" font-size="5.6" text-anchor="end">0</text>
<line x1="421.85" y1="584.88" x2="425.15" y2="584.88" stroke="#141414" stroke-width="1.0"/>
<text x="419.35" y="586.73" font-size="5.6" text-anchor="end">10</text>
<line x1="421.85" y1="576.56" x2="425.15" y2="576.56" stroke="#141414" stroke-width="1.0"/>
<text x="419.35" y="578.41" font-size="5.6" text-anchor="end">20</text>
<line x1="421.85" y1="568.24" x2="425.15" y2="568.24" stroke="#141414" stroke-width="1.0"/>
<text x="419.35" y="570.09" font-size="5.6" text-anchor="end">30</text>
<line x1="421.85" y1="559.92" x2="425.15" y2="559.92" stroke="#141414" stroke-width="1.0"/>
<text x="419.35" y="561.77" font-size="5.6" text-anchor="end">40</text>
<line x1="421.85" y1="551.6" x2="425.15" y2="551.6" stroke="#141414" stroke-width="1.0"/>
<text x="419.35" y="553.45" font-size="5.6" text-anchor="end">50</text>
<line x1="421.85" y1="543.28" x2="425.15" y2="543.28" stroke="#141414" stroke-width="1.0"/>
<text x="419.35" y="545.13" font-size="5.6" text-anchor="end">60</text>
<line x1="421.85" y1="534.96" x2="425.15" y2="534.96" stroke="#141414" stroke-width="1.0"/>
<text x="419.35" y="536.81" font-size="5.6" text-anchor="end">70</text>
<line x1="421.85" y1="526.64" x2="425.15" y2="526.64" stroke="#141414" stroke-width="1.0"/>
<text x="419.35" y="528.49" font-size="5.6" text-anchor="end">80</text>
<line x1="421.85" y1="518.32" x2="425.15" y2="518.32" stroke="#141414" stroke-width="1.0"/>
<text x="419.35" y="520.17" font-size="5.6" text-anchor="end">90</text>
<line x1="421.85" y1="510" x2="425.15" y2="510" stroke="#141414" stroke-width="1.0"/>
<text x="419.35" y="511.85" font-size="5.6" text-anchor="end">100</text>
<text x="432.6" y="604.4" font-size="6.2" text-anchor="middle" textLength="6.9" lengthAdjust="spacingAndGlyphs">Co</text>
<text x="448.6" y="604.4" font-size="6.2" text-anchor="middle" textLength="7.51" lengthAdjust="spacingAndGlyphs">2.5</text>
<text x="464.5" y="604.4" font-size="6.2" text-anchor="middle" textLength="3" lengthAdjust="spacingAndGlyphs">5</text>
<text x="480.5" y="604.4" font-size="6.2" text-anchor="middle" textLength="7.51" lengthAdjust="spacingAndGlyphs">7.5</text>
<text x="496.7" y="604.4" font-size="6.2" text-anchor="middle" textLength="6.01" lengthAdjust="spacingAndGlyphs">10</text>
<path d="M441 603.2V607.3H504.4V603.2" fill="none" stroke="#141414" stroke-width="0.95"/>
<text x="471.2" y="616.5" font-size="6.3" text-anchor="middle" textLength="37" lengthAdjust="spacingAndGlyphs">Pimozide [µM]</text>
<text class="t" x="457.4" y="506" font-size="6.1" textLength="24.4" lengthAdjust="spacingAndGlyphs"><tspan font-style="italic">MCPV</tspan>-1.4</text>
<text class="y" transform="translate(403.65,548.7) rotate(-90)" font-size="8.8" text-anchor="middle" textLength="84" lengthAdjust="spacingAndGlyphs">Staining index [% of Co]</text>
<text x="6.2" y="15.2" font-size="10.4" textLength="6.6" lengthAdjust="spacingAndGlyphs">A</text>
<text x="6.6" y="258.8" font-size="10.6" textLength="5.6" lengthAdjust="spacingAndGlyphs">B</text>
<text x="5.9" y="381.6" font-size="10.8" textLength="6.3" lengthAdjust="spacingAndGlyphs">C</text>
<rect x="0.5" y="0.5" width="519" height="624" fill="none" stroke="#000" stroke-width="1"/>
<rect x="518" y="1" width="1" height="623" fill="#000" fill-opacity="0.4"/>
</svg>
</body></html>
